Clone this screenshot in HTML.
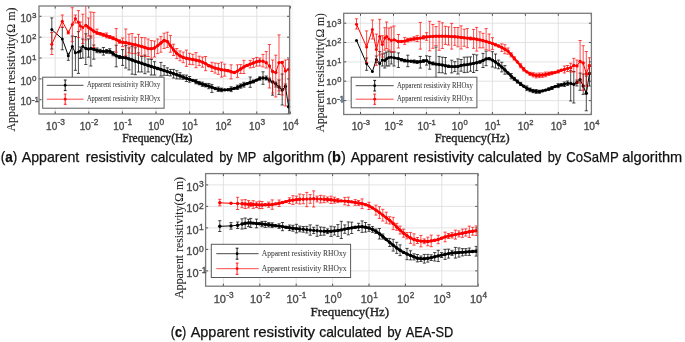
<!DOCTYPE html>
<html><head><meta charset="utf-8"><style>html,body{margin:0;padding:0;background:#fff;width:685px;height:342px;overflow:hidden}svg{display:block;will-change:transform;filter:blur(0.35px)}</style></head><body>
<svg width="685" height="342" viewBox="0 0 685 342" font-family="Liberation Sans, sans-serif">
<defs><clipPath id="ca"><rect x="39" y="6" width="251.8" height="108"/></clipPath><clipPath id="cb"><rect x="343.7" y="13.3" width="248.9" height="101.2"/></clipPath><clipPath id="cc"><rect x="205.6" y="173.6" width="273.4" height="112.6"/></clipPath></defs>
<rect width="685" height="342" fill="#fff"/>
<path d="M292 0V136" stroke="#f2f2f2" stroke-width="1"/>
<path d="M55.2 6V114M88.8 6V114M122.4 6V114M156 6V114M189.6 6V114M223.2 6V114M256.8 6V114M39 16.3H289.6M39 37.2H289.6M39 58H289.6M39 78.9H289.6M39 99.7H289.6" stroke="#e0e0e0" stroke-width="0.9" fill="none"/>
<g clip-path="url(#ca)">
<path d="M51.8 29.6 L62.3 39 L68.3 55.7 L72.3 46.6 L75.4 52.8 L78.4 52.1 L80.4 51 L82.8 46.5 L85.8 48.4 L88.5 49.1 L90.8 48.6 L93.8 49.3 L97 50.4 L100.2 51.1 L103.4 51.4 L106.6 51.4 L109.8 51.2 L113 53.6 L116.2 55.8 L119.4 57 L122.6 57.5 L125.8 57.8 L129 58.9 L132.1 60 L135.3 61.2 L138.5 62.2 L141.7 63.3 L144.9 64.4 L148.1 65.5 L151.3 66.5 L154.5 67.5 L157.7 68.5 L160.9 69.5 L164.1 70.5 L167.3 71.6 L170.4 72.6 L173.6 73.7 L176.8 74.8 L180 75.9 L183.2 77.1 L186.4 78.3 L189.6 79.4 L192.8 80.4 L196 81.7 L199.2 83.1 L202.4 84.2 L205.6 85.2 L208.8 86.1 L211.9 87.2 L215.1 88.5 L218.3 89.3 L221.5 89.9 L224.7 89.9 L227.9 89.7 L231.1 89.2 L234.3 88.4 L237.5 87.4 L240.7 86 L243.9 84.7 L247.1 83.6 L250.2 82.5 L253.4 81.5 L256.6 80.1 L259.8 78.5 L263 78 L266.2 78.2 L269.4 80 L272.6 82 L275.8 84 L279 87 L282.2 90 L285.4 86.5 L288.6 106.7" fill="none" stroke="#000" stroke-width="1.0" stroke-linejoin="round"/>
<path d="M85.8 48.4 L88.5 49.1 L90.8 48.6 L93.8 49.3 L97 50.4 L100.2 51.1 L103.4 51.4 L106.6 51.4 L109.8 51.2 L113 53.6 L116.2 55.8 L119.4 57 L122.6 57.5 L125.8 57.8 L129 58.9 L132.1 60 L135.3 61.2 L138.5 62.2 L141.7 63.3 L144.9 64.4 L148.1 65.5 L151.3 66.5 L154.5 67.5 L157.7 68.5 L160.9 69.5 L164.1 70.5 L167.3 71.6 L170.4 72.6 L173.6 73.7 L176.8 74.8 L180 75.9 L183.2 77.1 L186.4 78.3 L189.6 79.4 L192.8 80.4 L196 81.7 L199.2 83.1 L202.4 84.2 L205.6 85.2 L208.8 86.1 L211.9 87.2 L215.1 88.5 L218.3 89.3 L221.5 89.9 L224.7 89.9 L227.9 89.7 L231.1 89.2 L234.3 88.4 L237.5 87.4 L240.7 86 L243.9 84.7 L247.1 83.6 L250.2 82.5 L253.4 81.5 L256.6 80.1 L259.8 78.5" fill="none" stroke="#000" stroke-width="2.4" stroke-linejoin="round" stroke-linecap="round"/>
<path d="M51.8 17.9V49M50.2 17.9h3.2M50.2 49h3.2M62.3 27.2V49.8M60.7 27.2h3.2M60.7 49.8h3.2M68.3 53.4V60.3M66.7 53.4h3.2M66.7 60.3h3.2M72.3 36V80M70.7 36h3.2M70.7 80h3.2M75.4 36.5V70.3M73.8 36.5h3.2M73.8 70.3h3.2M78.4 31.6V73.4M76.8 31.6h3.2M76.8 73.4h3.2M80.4 47V58.4M78.8 47h3.2M78.8 58.4h3.2M82.8 39V58M81.2 39h3.2M81.2 58h3.2M85.8 33.8V64.5M84.2 33.8h3.2M84.2 64.5h3.2M88.5 38.9V57.2M86.9 38.9h3.2M86.9 57.2h3.2M90.8 36V66M89.2 36h3.2M89.2 66h3.2M93.8 45V59.2M92.2 45h3.2M92.2 59.2h3.2M97 48V52.7M95.4 48h3.2M95.4 52.7h3.2M100.2 49.3V52.9M98.6 49.3h3.2M98.6 52.9h3.2M103.4 47.5V55.1M101.8 47.5h3.2M101.8 55.1h3.2M106.6 49.5V53.3M105 49.5h3.2M105 53.3h3.2M109.8 48.7V53.6M108.2 48.7h3.2M108.2 53.6h3.2M113 51.5V55.8M111.4 51.5h3.2M111.4 55.8h3.2M116.2 45.2V66.8M114.6 45.2h3.2M114.6 66.8h3.2M119.4 55.5V58.5M117.8 55.5h3.2M117.8 58.5h3.2M122.6 49.6V65.4M121 49.6h3.2M121 65.4h3.2M125.8 45.6V68M124.2 45.6h3.2M124.2 68h3.2M129 47.9V69.9M127.4 47.9h3.2M127.4 69.9h3.2M132.1 46.3V74.2M130.5 46.3h3.2M130.5 74.2h3.2M135.3 47.8V74.7M133.7 47.8h3.2M133.7 74.7h3.2M138.5 52.9V72M136.9 52.9h3.2M136.9 72h3.2M141.7 56.5V72M140.1 56.5h3.2M140.1 72h3.2M144.9 55.1V73.7M143.3 55.1h3.2M143.3 73.7h3.2M148.1 59V72M146.5 59h3.2M146.5 72h3.2M151.3 59.5V75M149.7 59.5h3.2M149.7 75h3.2M154.5 61.7V75M152.9 61.7h3.2M152.9 75h3.2M157.7 67.4V69.6M156.1 67.4h3.2M156.1 69.6h3.2M160.9 62.4V76M159.3 62.4h3.2M159.3 76h3.2M164.1 65.7V75.3M162.5 65.7h3.2M162.5 75.3h3.2M167.3 67.8V75.4M165.7 67.8h3.2M165.7 75.4h3.2M170.4 69.4V75.9M168.8 69.4h3.2M168.8 75.9h3.2M173.6 69.4V78M172 69.4h3.2M172 78h3.2M176.8 70.7V78.9M175.2 70.7h3.2M175.2 78.9h3.2M180 72.7V79M178.4 72.7h3.2M178.4 79h3.2M183.2 74.9V79.3M181.6 74.9h3.2M181.6 79.3h3.2M186.4 75.1V81.5M184.8 75.1h3.2M184.8 81.5h3.2M189.6 76.5V82.2M188 76.5h3.2M188 82.2h3.2M196 79.5V83.8M194.4 79.5h3.2M194.4 83.8h3.2M199.2 81.4V84.8M197.6 81.4h3.2M197.6 84.8h3.2M202.4 82.1V86.4M200.8 82.1h3.2M200.8 86.4h3.2M205.6 83.4V86.9M204 83.4h3.2M204 86.9h3.2M208.8 83.5V88.7M207.2 83.5h3.2M207.2 88.7h3.2M211.9 84.4V92.4M210.3 84.4h3.2M210.3 92.4h3.2M218.3 87V91.5M216.7 87h3.2M216.7 91.5h3.2M221.5 88.1V91.7M219.9 88.1h3.2M219.9 91.7h3.2M231.1 86.8V91.6M229.5 86.8h3.2M229.5 91.6h3.2M237.5 85.2V89.5M235.9 85.2h3.2M235.9 89.5h3.2M240.7 83.9V88.2M239.1 83.9h3.2M239.1 88.2h3.2M243.9 82.3V87.1M242.3 82.3h3.2M242.3 87.1h3.2M250.2 77V87.3M248.6 77h3.2M248.6 87.3h3.2M253.4 80.1V82.9M251.8 80.1h3.2M251.8 82.9h3.2M259.8 76.8V80.2M258.2 76.8h3.2M258.2 80.2h3.2M263 71.8V84.3M261.4 71.8h3.2M261.4 84.3h3.2M266.2 76V80M264.6 76h3.2M264.6 80h3.2M269.4 78V82M267.8 78h3.2M267.8 82h3.2M272.6 81.3V95.2M271 81.3h3.2M271 95.2h3.2M275.8 82V87M274.2 82h3.2M274.2 87h3.2M279 80V94.4M277.4 80h3.2M277.4 94.4h3.2M282.2 74V105M280.6 74h3.2M280.6 105h3.2M285.4 84V89M283.8 84h3.2M283.8 89h3.2M288.6 100V114M287 100h3.2M287 114h3.2" fill="none" stroke="#000" stroke-width="0.7"/>
<g fill="#000"><circle cx="51.8" cy="29.6" r="1.5"/><circle cx="62.3" cy="39" r="1.5"/><circle cx="68.3" cy="55.7" r="1.5"/><circle cx="72.3" cy="46.6" r="1.5"/><circle cx="75.4" cy="52.8" r="1.5"/><circle cx="78.4" cy="52.1" r="1.5"/><circle cx="80.4" cy="51" r="1.5"/><circle cx="82.8" cy="46.5" r="1.5"/><circle cx="85.8" cy="48.4" r="1.5"/><circle cx="88.5" cy="49.1" r="1.5"/><circle cx="90.8" cy="48.6" r="1.5"/><circle cx="93.8" cy="49.3" r="1.7"/><circle cx="97" cy="50.4" r="1.7"/><circle cx="100.2" cy="51.1" r="1.7"/><circle cx="103.4" cy="51.4" r="1.7"/><circle cx="106.6" cy="51.4" r="1.7"/><circle cx="109.8" cy="51.2" r="1.7"/><circle cx="113" cy="53.6" r="1.7"/><circle cx="116.2" cy="55.8" r="1.7"/><circle cx="119.4" cy="57" r="1.7"/><circle cx="122.6" cy="57.5" r="1.7"/><circle cx="125.8" cy="57.8" r="1.7"/><circle cx="129" cy="58.9" r="1.7"/><circle cx="132.1" cy="60" r="1.7"/><circle cx="135.3" cy="61.2" r="1.7"/><circle cx="138.5" cy="62.2" r="1.7"/><circle cx="141.7" cy="63.3" r="1.7"/><circle cx="144.9" cy="64.4" r="1.7"/><circle cx="148.1" cy="65.5" r="1.7"/><circle cx="151.3" cy="66.5" r="1.7"/><circle cx="154.5" cy="67.5" r="1.7"/><circle cx="157.7" cy="68.5" r="1.7"/><circle cx="160.9" cy="69.5" r="1.7"/><circle cx="164.1" cy="70.5" r="1.7"/><circle cx="167.3" cy="71.6" r="1.7"/><circle cx="170.4" cy="72.6" r="1.7"/><circle cx="173.6" cy="73.7" r="1.7"/><circle cx="176.8" cy="74.8" r="1.7"/><circle cx="180" cy="75.9" r="1.7"/><circle cx="183.2" cy="77.1" r="1.7"/><circle cx="186.4" cy="78.3" r="1.7"/><circle cx="189.6" cy="79.4" r="1.7"/><circle cx="192.8" cy="80.4" r="1.7"/><circle cx="196" cy="81.7" r="1.7"/><circle cx="199.2" cy="83.1" r="1.7"/><circle cx="202.4" cy="84.2" r="1.7"/><circle cx="205.6" cy="85.2" r="1.7"/><circle cx="208.8" cy="86.1" r="1.7"/><circle cx="211.9" cy="87.2" r="1.7"/><circle cx="215.1" cy="88.5" r="1.7"/><circle cx="218.3" cy="89.3" r="1.7"/><circle cx="221.5" cy="89.9" r="1.7"/><circle cx="224.7" cy="89.9" r="1.7"/><circle cx="227.9" cy="89.7" r="1.7"/><circle cx="231.1" cy="89.2" r="1.7"/><circle cx="234.3" cy="88.4" r="1.7"/><circle cx="237.5" cy="87.4" r="1.7"/><circle cx="240.7" cy="86" r="1.7"/><circle cx="243.9" cy="84.7" r="1.7"/><circle cx="247.1" cy="83.6" r="1.7"/><circle cx="250.2" cy="82.5" r="1.7"/><circle cx="253.4" cy="81.5" r="1.7"/><circle cx="256.6" cy="80.1" r="1.7"/><circle cx="259.8" cy="78.5" r="1.7"/><circle cx="263" cy="78" r="1.7"/><circle cx="266.2" cy="78.2" r="1.7"/><circle cx="269.4" cy="80" r="1.7"/><circle cx="272.6" cy="82" r="1.7"/><circle cx="275.8" cy="84" r="1.7"/><circle cx="279" cy="87" r="1.7"/><circle cx="282.2" cy="90" r="1.7"/><circle cx="285.4" cy="86.5" r="1.7"/><circle cx="288.6" cy="106.7" r="1.7"/></g>
<path d="M51.8 44.2 L62.3 21.3 L68.3 32.5 L72.3 24.5 L75.4 18.6 L78.4 22.3 L80.4 25.9 L82.8 27.4 L85.8 25.2 L88.5 27.4 L90.8 29 L93.8 31.2 L97 32.8 L100.2 33.8 L103.4 34.8 L106.6 35.8 L109.8 37 L113 38.2 L116.2 39.6 L119.4 41.5 L122.6 42.3 L125.8 42.7 L129 43.4 L132.1 44.1 L135.3 44.8 L138.5 45.7 L141.7 46.5 L144.9 47.5 L148.1 48.6 L151.3 48.8 L154.5 48 L157.7 45.6 L160.9 43 L164.1 40.5 L167.3 41.4 L170.4 45.6 L173.6 49.9 L176.8 53.5 L180 55.9 L183.2 57.4 L186.4 58.3 L189.6 58.9 L192.8 59.5 L196 60.2 L199.2 60.9 L202.4 62.1 L205.6 63.6 L208.8 65.7 L211.9 66.9 L215.1 68.1 L218.3 68.9 L221.5 69.7 L224.7 70.1 L227.9 70.7 L231.1 71.8 L234.3 72.5 L237.5 71.1 L240.7 69 L243.9 66.9 L247.1 65.4 L250.2 64.1 L253.4 63 L256.6 61.8 L259.8 61 L263 61.3 L266.2 62.8 L269.4 66 L272.6 71.5 L275.8 72.5 L279 62.6 L282.2 62.5 L285.4 70.9 L288.6 69.5" fill="none" stroke="#f00" stroke-width="1.0" stroke-linejoin="round"/>
<path d="M85.8 25.2 L88.5 27.4 L90.8 29 L93.8 31.2 L97 32.8 L100.2 33.8 L103.4 34.8 L106.6 35.8 L109.8 37 L113 38.2 L116.2 39.6 L119.4 41.5 L122.6 42.3 L125.8 42.7 L129 43.4 L132.1 44.1 L135.3 44.8 L138.5 45.7 L141.7 46.5 L144.9 47.5 L148.1 48.6 L151.3 48.8 L154.5 48 L157.7 45.6 L160.9 43 L164.1 40.5 L167.3 41.4 L170.4 45.6 L173.6 49.9 L176.8 53.5 L180 55.9 L183.2 57.4 L186.4 58.3 L189.6 58.9 L192.8 59.5 L196 60.2 L199.2 60.9 L202.4 62.1 L205.6 63.6 L208.8 65.7 L211.9 66.9 L215.1 68.1 L218.3 68.9 L221.5 69.7 L224.7 70.1 L227.9 70.7 L231.1 71.8 L234.3 72.5 L237.5 71.1 L240.7 69 L243.9 66.9 L247.1 65.4 L250.2 64.1 L253.4 63 L256.6 61.8 L259.8 61" fill="none" stroke="#f00" stroke-width="2.4" stroke-linejoin="round" stroke-linecap="round"/>
<path d="M51.8 32.5V54.5M50.2 32.5h3.2M50.2 54.5h3.2M62.3 15V27.4M60.7 15h3.2M60.7 27.4h3.2M68.3 31V34M66.7 31h3.2M66.7 34h3.2M72.3 7.7V41.7M70.7 7.7h3.2M70.7 41.7h3.2M75.4 15V23M73.8 15h3.2M73.8 23h3.2M78.4 10.6V37.6M76.8 10.6h3.2M76.8 37.6h3.2M80.4 22V30M78.8 22h3.2M78.8 30h3.2M82.8 14.2V43.5M81.2 14.2h3.2M81.2 43.5h3.2M85.8 4V40M84.2 4h3.2M84.2 40h3.2M88.5 18V36M86.9 18h3.2M86.9 36h3.2M90.8 12V38M89.2 12h3.2M89.2 38h3.2M93.8 12.4V47.5M92.2 12.4h3.2M92.2 47.5h3.2M97 29.1V34.4M95.4 29.1h3.2M95.4 34.4h3.2M100.2 32.7V34.9M98.6 32.7h3.2M98.6 34.9h3.2M103.4 33.3V36.2M101.8 33.3h3.2M101.8 36.2h3.2M106.6 33V37.9M105 33h3.2M105 37.9h3.2M109.8 35.5V38.5M108.2 35.5h3.2M108.2 38.5h3.2M113 36.7V39.7M111.4 36.7h3.2M111.4 39.7h3.2M116.2 28.6V52.2M114.6 28.6h3.2M114.6 52.2h3.2M119.4 39.7V43.3M117.8 39.7h3.2M117.8 43.3h3.2M122.6 38V46.6M121 38h3.2M121 46.6h3.2M125.8 29V55.8M124.2 29h3.2M124.2 55.8h3.2M129 34.1V52.7M127.4 34.1h3.2M127.4 52.7h3.2M132.1 33.5V53.6M130.5 33.5h3.2M130.5 53.6h3.2M135.3 37.3V53.6M133.7 37.3h3.2M133.7 53.6h3.2M138.5 34.3V55.1M136.9 34.3h3.2M136.9 55.1h3.2M141.7 37.5V55.8M140.1 37.5h3.2M140.1 55.8h3.2M144.9 37.8V56.5M143.3 37.8h3.2M143.3 56.5h3.2M148.1 39V56.5M146.5 39h3.2M146.5 56.5h3.2M151.3 40.5V58.3M149.7 40.5h3.2M149.7 58.3h3.2M154.5 41V57M152.9 41h3.2M152.9 57h3.2M157.7 39V53.6M156.1 39h3.2M156.1 53.6h3.2M160.9 36.4V52.2M159.3 36.4h3.2M159.3 52.2h3.2M164.1 33.2V48.5M162.5 33.2h3.2M162.5 48.5h3.2M167.3 32.2V47.5M165.7 32.2h3.2M165.7 47.5h3.2M170.4 35.4V52.2M168.8 35.4h3.2M168.8 52.2h3.2M173.6 44.2V55.5M172 44.2h3.2M172 55.5h3.2M176.8 48.5V58.6M175.2 48.5h3.2M175.2 58.6h3.2M180 50.9V60.8M178.4 50.9h3.2M178.4 60.8h3.2M183.2 52.1V62.7M181.6 52.1h3.2M181.6 62.7h3.2M186.4 50.1V66.4M184.8 50.1h3.2M184.8 66.4h3.2M189.6 53.3V64.4M188 53.3h3.2M188 64.4h3.2M192.8 54.3V64.7M191.2 54.3h3.2M191.2 64.7h3.2M196 52.6V67.7M194.4 52.6h3.2M194.4 67.7h3.2M199.2 56.2V65.6M197.6 56.2h3.2M197.6 65.6h3.2M202.4 57V67.2M200.8 57h3.2M200.8 67.2h3.2M205.6 56.5V70.7M204 56.5h3.2M204 70.7h3.2M208.8 64.8V66.6M207.2 64.8h3.2M207.2 66.6h3.2M211.9 62.3V71.5M210.3 62.3h3.2M210.3 71.5h3.2M215.1 63V73.1M213.5 63h3.2M213.5 73.1h3.2M218.3 63.4V74.4M216.7 63.4h3.2M216.7 74.4h3.2M221.5 62.2V77.1M219.9 62.2h3.2M219.9 77.1h3.2M224.7 64.1V76.2M223.1 64.1h3.2M223.1 76.2h3.2M227.9 69.8V71.5M226.3 69.8h3.2M226.3 71.5h3.2M231.1 64.8V78.9M229.5 64.8h3.2M229.5 78.9h3.2M234.3 71.6V73.3M232.7 71.6h3.2M232.7 73.3h3.2M237.5 64.8V77.4M235.9 64.8h3.2M235.9 77.4h3.2M240.7 64.6V73.5M239.1 64.6h3.2M239.1 73.5h3.2M243.9 60.3V73.5M242.3 60.3h3.2M242.3 73.5h3.2M247.1 64.6V66.2M245.5 64.6h3.2M245.5 66.2h3.2M250.2 60.4V67.9M248.6 60.4h3.2M248.6 67.9h3.2M253.4 58.6V67.3M251.8 58.6h3.2M251.8 67.3h3.2M256.6 57.4V66.1M255 57.4h3.2M255 66.1h3.2M259.8 58V66M258.2 58h3.2M258.2 66h3.2M263 54.4V66.9M261.4 54.4h3.2M261.4 66.9h3.2M266.2 51.5V68M264.6 51.5h3.2M264.6 68h3.2M269.4 44.5V88M267.8 44.5h3.2M267.8 88h3.2M272.6 60V93M271 60h3.2M271 93h3.2M275.8 55.2V97M274.2 55.2h3.2M274.2 97h3.2M279 34.9V91M277.4 34.9h3.2M277.4 91h3.2M282.2 61.4V95M280.6 61.4h3.2M280.6 95h3.2M285.4 60V106M283.8 60h3.2M283.8 106h3.2M288.6 59.5V100M287 59.5h3.2M287 100h3.2" fill="none" stroke="#f00" stroke-width="0.7"/>
<g fill="#f00"><circle cx="51.8" cy="44.2" r="1.5"/><circle cx="62.3" cy="21.3" r="1.5"/><circle cx="68.3" cy="32.5" r="1.5"/><circle cx="72.3" cy="24.5" r="1.5"/><circle cx="75.4" cy="18.6" r="1.5"/><circle cx="78.4" cy="22.3" r="1.5"/><circle cx="80.4" cy="25.9" r="1.5"/><circle cx="82.8" cy="27.4" r="1.5"/><circle cx="85.8" cy="25.2" r="1.5"/><circle cx="88.5" cy="27.4" r="1.5"/><circle cx="90.8" cy="29" r="1.5"/><circle cx="93.8" cy="31.2" r="1.7"/><circle cx="97" cy="32.8" r="1.7"/><circle cx="100.2" cy="33.8" r="1.7"/><circle cx="103.4" cy="34.8" r="1.7"/><circle cx="106.6" cy="35.8" r="1.7"/><circle cx="109.8" cy="37" r="1.7"/><circle cx="113" cy="38.2" r="1.7"/><circle cx="116.2" cy="39.6" r="1.7"/><circle cx="119.4" cy="41.5" r="1.7"/><circle cx="122.6" cy="42.3" r="1.7"/><circle cx="125.8" cy="42.7" r="1.7"/><circle cx="129" cy="43.4" r="1.7"/><circle cx="132.1" cy="44.1" r="1.7"/><circle cx="135.3" cy="44.8" r="1.7"/><circle cx="138.5" cy="45.7" r="1.7"/><circle cx="141.7" cy="46.5" r="1.7"/><circle cx="144.9" cy="47.5" r="1.7"/><circle cx="148.1" cy="48.6" r="1.7"/><circle cx="151.3" cy="48.8" r="1.7"/><circle cx="154.5" cy="48" r="1.7"/><circle cx="157.7" cy="45.6" r="1.7"/><circle cx="160.9" cy="43" r="1.7"/><circle cx="164.1" cy="40.5" r="1.7"/><circle cx="167.3" cy="41.4" r="1.7"/><circle cx="170.4" cy="45.6" r="1.7"/><circle cx="173.6" cy="49.9" r="1.7"/><circle cx="176.8" cy="53.5" r="1.7"/><circle cx="180" cy="55.9" r="1.7"/><circle cx="183.2" cy="57.4" r="1.7"/><circle cx="186.4" cy="58.3" r="1.7"/><circle cx="189.6" cy="58.9" r="1.7"/><circle cx="192.8" cy="59.5" r="1.7"/><circle cx="196" cy="60.2" r="1.7"/><circle cx="199.2" cy="60.9" r="1.7"/><circle cx="202.4" cy="62.1" r="1.7"/><circle cx="205.6" cy="63.6" r="1.7"/><circle cx="208.8" cy="65.7" r="1.7"/><circle cx="211.9" cy="66.9" r="1.7"/><circle cx="215.1" cy="68.1" r="1.7"/><circle cx="218.3" cy="68.9" r="1.7"/><circle cx="221.5" cy="69.7" r="1.7"/><circle cx="224.7" cy="70.1" r="1.7"/><circle cx="227.9" cy="70.7" r="1.7"/><circle cx="231.1" cy="71.8" r="1.7"/><circle cx="234.3" cy="72.5" r="1.7"/><circle cx="237.5" cy="71.1" r="1.7"/><circle cx="240.7" cy="69" r="1.7"/><circle cx="243.9" cy="66.9" r="1.7"/><circle cx="247.1" cy="65.4" r="1.7"/><circle cx="250.2" cy="64.1" r="1.7"/><circle cx="253.4" cy="63" r="1.7"/><circle cx="256.6" cy="61.8" r="1.7"/><circle cx="259.8" cy="61" r="1.7"/><circle cx="263" cy="61.3" r="1.7"/><circle cx="266.2" cy="62.8" r="1.7"/><circle cx="269.4" cy="66" r="1.7"/><circle cx="272.6" cy="71.5" r="1.7"/><circle cx="275.8" cy="72.5" r="1.7"/><circle cx="279" cy="62.6" r="1.7"/><circle cx="282.2" cy="62.5" r="1.7"/><circle cx="285.4" cy="70.9" r="1.7"/><circle cx="288.6" cy="69.5" r="1.7"/></g>
</g>
<rect x="42.7" y="77.2" width="121.4" height="31" fill="#fff" stroke="#5a5a5a" stroke-width="1"/>
<path d="M46.8 85.3H83.6" stroke="#000" stroke-width="0.9" opacity="0.8"/>
<path d="M65.2 80V90.6M63.8 80h2.8M63.8 90.6h2.8" stroke="#000" stroke-width="0.9" fill="none"/>
<circle cx="65.2" cy="85.3" r="1.4" fill="#000"/>
<text x="86.9" y="87.1" font-family="Liberation Serif" font-size="7.4" textLength="73.4" lengthAdjust="spacingAndGlyphs" fill="#3a3a3a" stroke="#3a3a3a" stroke-width="0.05">Apparent resistivity RHOxy</text>
<path d="M46.8 99.2H83.6" stroke="#f00" stroke-width="0.9" opacity="0.8"/>
<path d="M65.2 94.1V104.3M63.8 94.1h2.8M63.8 104.3h2.8" stroke="#f00" stroke-width="0.9" fill="none"/>
<circle cx="65.2" cy="99.2" r="1.4" fill="#f00"/>
<text x="86.9" y="101" font-family="Liberation Serif" font-size="7.4" textLength="73.4" lengthAdjust="spacingAndGlyphs" fill="#3a3a3a" stroke="#3a3a3a" stroke-width="0.05">Apparent resistivity RHOyx</text>
<path d="M55.2 114v-2.5M55.2 6v2.5M88.8 114v-2.5M88.8 6v2.5M122.4 114v-2.5M122.4 6v2.5M156 114v-2.5M156 6v2.5M189.6 114v-2.5M189.6 6v2.5M223.2 114v-2.5M223.2 6v2.5M256.8 114v-2.5M256.8 6v2.5M290.4 114v-2.5M290.4 6v2.5M39 16.3h2.5M289.6 16.3h-2.5M39 37.2h2.5M289.6 37.2h-2.5M39 58h2.5M289.6 58h-2.5M39 78.9h2.5M289.6 78.9h-2.5M39 99.7h2.5M289.6 99.7h-2.5" stroke="#404040" stroke-width="0.9" fill="none"/>
<rect x="39" y="6" width="250.6" height="108" fill="none" stroke="#7a7a7a" stroke-width="1.3"/>
<path d="M360.5 13.3V114.5M393.5 13.3V114.5M426.4 13.3V114.5M459.4 13.3V114.5M492.4 13.3V114.5M525.4 13.3V114.5M558.3 13.3V114.5M343.7 23.2H591.4M343.7 42.5H591.4M343.7 61.9H591.4M343.7 81.2H591.4M343.7 100.6H591.4" stroke="#e0e0e0" stroke-width="0.9" fill="none"/>
<g clip-path="url(#cb)">
<path d="M356.5 40.4 L366.6 63.6 L372.4 71.6 L376.4 59.4 L379.7 63.4 L382.4 60 L384.8 60.5 L386.6 58.7 L388.9 57.5 L391.3 57.3 L394 57.8 L398.4 58.6 L401.5 59.8 L404.7 60.6 L407.8 61 L410.9 61.2 L414.1 61.5 L417.2 62 L420.3 61.7 L423.5 61 L426.6 60.6 L429.7 62.8 L432.9 63.5 L436 64.1 L439.1 64.5 L442.3 65 L445.4 65.7 L448.5 66.3 L451.7 66.6 L454.8 66.6 L457.9 66.5 L461.1 65.4 L464.2 64.9 L467.3 64.6 L470.5 64 L473.6 63.4 L476.7 62.7 L479.9 62 L483 60.4 L486.1 58.9 L489.2 58.7 L492.4 60.1 L495.5 62 L498.6 64.4 L501.8 67.1 L504.9 69.9 L508 73 L511.2 76.1 L514.3 78.8 L517.4 81.5 L520.6 84 L523.7 86.3 L526.8 88.3 L530 89.8 L533.1 91 L536.2 91.4 L539.4 91.7 L542.5 90.9 L545.6 90.1 L548.8 89.1 L551.9 88 L555 86.6 L558.2 85.7 L561.3 84.9 L564.4 84.2 L567.6 83.4 L570.7 83.5 L573.8 84.3 L576.9 82.5 L580.1 79.7 L583.2 86 L586.3 93.3 L589.5 73.5" fill="none" stroke="#000" stroke-width="1.0" stroke-linejoin="round"/>
<path d="M394 57.8 L398.4 58.6 L401.5 59.8 L404.7 60.6 L407.8 61 L410.9 61.2 L414.1 61.5 L417.2 62 L420.3 61.7 L423.5 61 L426.6 60.6 L429.7 62.8 L432.9 63.5 L436 64.1 L439.1 64.5 L442.3 65 L445.4 65.7 L448.5 66.3 L451.7 66.6 L454.8 66.6 L457.9 66.5 L461.1 65.4 L464.2 64.9 L467.3 64.6 L470.5 64 L473.6 63.4 L476.7 62.7 L479.9 62 L483 60.4 L486.1 58.9 L489.2 58.7 L492.4 60.1 L495.5 62 L498.6 64.4 L501.8 67.1 L504.9 69.9 L508 73 L511.2 76.1 L514.3 78.8 L517.4 81.5 L520.6 84 L523.7 86.3 L526.8 88.3 L530 89.8 L533.1 91 L536.2 91.4 L539.4 91.7 L542.5 90.9 L545.6 90.1 L548.8 89.1 L551.9 88 L555 86.6 L558.2 85.7 L561.3 84.9 L564.4 84.2" fill="none" stroke="#000" stroke-width="2.2" stroke-linejoin="round" stroke-linecap="round"/>
<path d="M366.6 58V70.3M365 58h3.2M365 70.3h3.2M376.4 56V62.5M374.8 56h3.2M374.8 62.5h3.2M379.7 51.6V78.4M378.1 51.6h3.2M378.1 78.4h3.2M382.4 54V66M380.8 54h3.2M380.8 66h3.2M384.8 53V68M383.2 53h3.2M383.2 68h3.2M386.6 52V66M385 52h3.2M385 66h3.2M388.9 51V66M387.3 51h3.2M387.3 66h3.2M391.3 52V64M389.7 52h3.2M389.7 64h3.2M394 52V66M392.4 52h3.2M392.4 66h3.2M398.4 52.9V67.5M396.8 52.9h3.2M396.8 67.5h3.2M401.5 58.8V60.8M399.9 58.8h3.2M399.9 60.8h3.2M404.7 59.3V62M403.1 59.3h3.2M403.1 62h3.2M407.8 55.2V66.7M406.2 55.2h3.2M406.2 66.7h3.2M414.1 60V63M412.5 60h3.2M412.5 63h3.2M417.2 60.7V63.4M415.6 60.7h3.2M415.6 63.4h3.2M420.3 56.4V68.1M418.7 56.4h3.2M418.7 68.1h3.2M423.5 59.7V62.3M421.9 59.7h3.2M421.9 62.3h3.2M426.6 55.8V65.1M425 55.8h3.2M425 65.1h3.2M429.7 56.4V69.2M428.1 56.4h3.2M428.1 69.2h3.2M432.9 62.1V64.9M431.3 62.1h3.2M431.3 64.9h3.2M436 47V77.4M434.4 47h3.2M434.4 77.4h3.2M439.1 56.4V72.7M437.5 56.4h3.2M437.5 72.7h3.2M442.3 57.2V72.8M440.7 57.2h3.2M440.7 72.8h3.2M445.4 57.5V73.8M443.8 57.5h3.2M443.8 73.8h3.2M448.5 65.3V67.4M446.9 65.3h3.2M446.9 67.4h3.2M451.7 60.2V72.9M450.1 60.2h3.2M450.1 72.9h3.2M454.8 61.7V71.6M453.2 61.7h3.2M453.2 71.6h3.2M457.9 58.9V74M456.3 58.9h3.2M456.3 74h3.2M461.1 59.5V71.2M459.5 59.5h3.2M459.5 71.2h3.2M464.2 57.2V72.6M462.6 57.2h3.2M462.6 72.6h3.2M467.3 57V72.3M465.7 57h3.2M465.7 72.3h3.2M470.5 56.9V71.2M468.9 56.9h3.2M468.9 71.2h3.2M473.6 54.3V72.5M472 54.3h3.2M472 72.5h3.2M476.7 54.9V70.6M475.1 54.9h3.2M475.1 70.6h3.2M479.9 60.9V63M478.3 60.9h3.2M478.3 63h3.2M483 53.4V67.5M481.4 53.4h3.2M481.4 67.5h3.2M486.1 51.1V65.7M484.5 51.1h3.2M484.5 65.7h3.2M489.2 57.8V59.5M487.6 57.8h3.2M487.6 59.5h3.2M492.4 51.7V67M490.8 51.7h3.2M490.8 67h3.2M495.5 54V68M493.9 54h3.2M493.9 68h3.2M498.6 60.1V68.8M497 60.1h3.2M497 68.8h3.2M501.8 62.2V71.9M500.2 62.2h3.2M500.2 71.9h3.2M504.9 65.6V74.2M503.3 65.6h3.2M503.3 74.2h3.2M511.2 73.5V78.8M509.6 73.5h3.2M509.6 78.8h3.2M514.3 77.3V80.4M512.7 77.3h3.2M512.7 80.4h3.2M517.4 80V83.1M515.8 80h3.2M515.8 83.1h3.2M520.6 82.4V85.5M519 82.4h3.2M519 85.5h3.2M526.8 85.9V90.6M525.2 85.9h3.2M525.2 90.6h3.2M530 88V91.7M528.4 88h3.2M528.4 91.7h3.2M533.1 89.4V92.7M531.5 89.4h3.2M531.5 92.7h3.2M536.2 89.5V93.4M534.6 89.5h3.2M534.6 93.4h3.2M539.4 90.2V93.2M537.8 90.2h3.2M537.8 93.2h3.2M548.8 87.8V90.4M547.2 87.8h3.2M547.2 90.4h3.2M551.9 86.5V89.5M550.3 86.5h3.2M550.3 89.5h3.2M558.2 83.7V87.6M556.6 83.7h3.2M556.6 87.6h3.2M561.3 83.8V86M559.7 83.8h3.2M559.7 86h3.2M564.4 82V86.5M562.8 82h3.2M562.8 86.5h3.2M567.6 81V85.5M566 81h3.2M566 85.5h3.2M570.7 70.7V101M569.1 70.7h3.2M569.1 101h3.2M573.8 71.5V103M572.2 71.5h3.2M572.2 103h3.2M576.9 80V86M575.3 80h3.2M575.3 86h3.2M580.1 73V90.3M578.5 73h3.2M578.5 90.3h3.2M583.2 74V94.4M581.6 74h3.2M581.6 94.4h3.2M586.3 76V110.8M584.7 76h3.2M584.7 110.8h3.2M589.5 66.5V86M587.9 66.5h3.2M587.9 86h3.2" fill="none" stroke="#000" stroke-width="0.7"/>
<g fill="#000"><circle cx="356.5" cy="40.4" r="1.5"/><circle cx="366.6" cy="63.6" r="1.5"/><circle cx="372.4" cy="71.6" r="1.5"/><circle cx="376.4" cy="59.4" r="1.5"/><circle cx="379.7" cy="63.4" r="1.5"/><circle cx="382.4" cy="60" r="1.5"/><circle cx="384.8" cy="60.5" r="1.5"/><circle cx="386.6" cy="58.7" r="1.5"/><circle cx="388.9" cy="57.5" r="1.5"/><circle cx="391.3" cy="57.3" r="1.5"/><circle cx="394" cy="57.8" r="1.5"/><circle cx="398.4" cy="58.6" r="1.7"/><circle cx="401.5" cy="59.8" r="1.7"/><circle cx="404.7" cy="60.6" r="1.7"/><circle cx="407.8" cy="61" r="1.7"/><circle cx="410.9" cy="61.2" r="1.7"/><circle cx="414.1" cy="61.5" r="1.7"/><circle cx="417.2" cy="62" r="1.7"/><circle cx="420.3" cy="61.7" r="1.7"/><circle cx="423.5" cy="61" r="1.7"/><circle cx="426.6" cy="60.6" r="1.7"/><circle cx="429.7" cy="62.8" r="1.7"/><circle cx="432.9" cy="63.5" r="1.7"/><circle cx="436" cy="64.1" r="1.7"/><circle cx="439.1" cy="64.5" r="1.7"/><circle cx="442.3" cy="65" r="1.7"/><circle cx="445.4" cy="65.7" r="1.7"/><circle cx="448.5" cy="66.3" r="1.7"/><circle cx="451.7" cy="66.6" r="1.7"/><circle cx="454.8" cy="66.6" r="1.7"/><circle cx="457.9" cy="66.5" r="1.7"/><circle cx="461.1" cy="65.4" r="1.7"/><circle cx="464.2" cy="64.9" r="1.7"/><circle cx="467.3" cy="64.6" r="1.7"/><circle cx="470.5" cy="64" r="1.7"/><circle cx="473.6" cy="63.4" r="1.7"/><circle cx="476.7" cy="62.7" r="1.7"/><circle cx="479.9" cy="62" r="1.7"/><circle cx="483" cy="60.4" r="1.7"/><circle cx="486.1" cy="58.9" r="1.7"/><circle cx="489.2" cy="58.7" r="1.7"/><circle cx="492.4" cy="60.1" r="1.7"/><circle cx="495.5" cy="62" r="1.7"/><circle cx="498.6" cy="64.4" r="1.7"/><circle cx="501.8" cy="67.1" r="1.7"/><circle cx="504.9" cy="69.9" r="1.7"/><circle cx="508" cy="73" r="1.7"/><circle cx="511.2" cy="76.1" r="1.7"/><circle cx="514.3" cy="78.8" r="1.7"/><circle cx="517.4" cy="81.5" r="1.7"/><circle cx="520.6" cy="84" r="1.7"/><circle cx="523.7" cy="86.3" r="1.7"/><circle cx="526.8" cy="88.3" r="1.7"/><circle cx="530" cy="89.8" r="1.7"/><circle cx="533.1" cy="91" r="1.7"/><circle cx="536.2" cy="91.4" r="1.7"/><circle cx="539.4" cy="91.7" r="1.7"/><circle cx="542.5" cy="90.9" r="1.7"/><circle cx="545.6" cy="90.1" r="1.7"/><circle cx="548.8" cy="89.1" r="1.7"/><circle cx="551.9" cy="88" r="1.7"/><circle cx="555" cy="86.6" r="1.7"/><circle cx="558.2" cy="85.7" r="1.7"/><circle cx="561.3" cy="84.9" r="1.7"/><circle cx="564.4" cy="84.2" r="1.7"/><circle cx="567.6" cy="83.4" r="1.7"/><circle cx="570.7" cy="83.5" r="1.7"/><circle cx="573.8" cy="84.3" r="1.7"/><circle cx="576.9" cy="82.5" r="1.7"/><circle cx="580.1" cy="79.7" r="1.7"/><circle cx="583.2" cy="86" r="1.7"/><circle cx="586.3" cy="93.3" r="1.7"/><circle cx="589.5" cy="73.5" r="1.7"/></g>
<path d="M356.5 24.2 L366.6 47 L372.4 29.6 L376.4 49.6 L379.7 36.5 L382.4 44.6 L384.8 38.1 L386.6 36.5 L388.9 39 L391.3 40.4 L394 39.8 L398.4 41.5 L401.5 41.5 L404.7 41.1 L407.8 40.1 L410.9 39.4 L414.1 38.8 L417.2 38.4 L420.3 38.1 L423.5 37.4 L426.6 36.9 L429.7 36.6 L432.9 36.4 L436 36.2 L439.1 36.2 L442.3 36.2 L445.4 36.2 L448.5 36.4 L451.7 36.6 L454.8 36.7 L457.9 37 L461.1 37.4 L464.2 37.8 L467.3 38.1 L470.5 38.5 L473.6 38.8 L476.7 39.2 L479.9 39.9 L483 40.6 L486.1 41.5 L489.2 42.4 L492.4 43.5 L495.5 44.8 L498.6 46 L501.8 47.6 L504.9 49.2 L508 51.1 L511.2 54.8 L514.3 58.4 L517.4 62 L520.6 65.7 L523.7 69.3 L526.8 71.9 L530 73.7 L533.1 74.8 L536.2 75.6 L539.4 75.3 L542.5 75.1 L545.6 74.5 L548.8 73.8 L551.9 73.1 L555 72.5 L558.2 71.5 L561.3 70.3 L564.4 69.5 L567.6 68.5 L570.7 67.7 L573.8 65.5 L576.9 65.9 L580.1 61.5 L583.2 63 L586.3 73.9 L589.5 65.5" fill="none" stroke="#f00" stroke-width="1.0" stroke-linejoin="round"/>
<path d="M394 39.8 L398.4 41.5 L401.5 41.5 L404.7 41.1 L407.8 40.1 L410.9 39.4 L414.1 38.8 L417.2 38.4 L420.3 38.1 L423.5 37.4 L426.6 36.9 L429.7 36.6 L432.9 36.4 L436 36.2 L439.1 36.2 L442.3 36.2 L445.4 36.2 L448.5 36.4 L451.7 36.6 L454.8 36.7 L457.9 37 L461.1 37.4 L464.2 37.8 L467.3 38.1 L470.5 38.5 L473.6 38.8 L476.7 39.2 L479.9 39.9 L483 40.6 L486.1 41.5 L489.2 42.4 L492.4 43.5 L495.5 44.8 L498.6 46 L501.8 47.6 L504.9 49.2 L508 51.1 L511.2 54.8 L514.3 58.4 L517.4 62 L520.6 65.7 L523.7 69.3 L526.8 71.9 L530 73.7 L533.1 74.8 L536.2 75.6 L539.4 75.3 L542.5 75.1 L545.6 74.5 L548.8 73.8 L551.9 73.1 L555 72.5 L558.2 71.5 L561.3 70.3 L564.4 69.5" fill="none" stroke="#f00" stroke-width="2.2" stroke-linejoin="round" stroke-linecap="round"/>
<path d="M356.5 18.8V29M354.9 18.8h3.2M354.9 29h3.2M366.6 30.9V62.6M365 30.9h3.2M365 62.6h3.2M372.4 20V39M370.8 20h3.2M370.8 39h3.2M376.4 34.1V65.3M374.8 34.1h3.2M374.8 65.3h3.2M379.7 19.3V55M378.1 19.3h3.2M378.1 55h3.2M382.4 35.7V57M380.8 35.7h3.2M380.8 57h3.2M384.8 27.7V50.2M383.2 27.7h3.2M383.2 50.2h3.2M386.6 22V48.6M385 22h3.2M385 48.6h3.2M388.9 28V50M387.3 28h3.2M387.3 50h3.2M391.3 27V52M389.7 27h3.2M389.7 52h3.2M394 26V52M392.4 26h3.2M392.4 52h3.2M398.4 34.5V48M396.8 34.5h3.2M396.8 48h3.2M404.7 37.4V44.4M403.1 37.4h3.2M403.1 44.4h3.2M407.8 38.3V41.9M406.2 38.3h3.2M406.2 41.9h3.2M410.9 38V41M409.3 38h3.2M409.3 41h3.2M414.1 36.8V40.8M412.5 36.8h3.2M412.5 40.8h3.2M417.2 35.6V41.5M415.6 35.6h3.2M415.6 41.5h3.2M420.3 22.4V49.1M418.7 22.4h3.2M418.7 49.1h3.2M423.5 35.6V39.1M421.9 35.6h3.2M421.9 39.1h3.2M426.6 32.7V40.3M425 32.7h3.2M425 40.3h3.2M429.7 21.3V50.8M428.1 21.3h3.2M428.1 50.8h3.2M432.9 24.5V48.3M431.3 24.5h3.2M431.3 48.3h3.2M436 26.6V45.6M434.4 26.6h3.2M434.4 45.6h3.2M439.1 21.3V50.3M437.5 21.3h3.2M437.5 50.3h3.2M442.3 22.8V48.5M440.7 22.8h3.2M440.7 48.5h3.2M445.4 26.3V44.4M443.8 26.3h3.2M443.8 44.4h3.2M448.5 26.9V45M446.9 26.9h3.2M446.9 45h3.2M451.7 23.4V49.1M450.1 23.4h3.2M450.1 49.1h3.2M454.8 27.5V45.3M453.2 27.5h3.2M453.2 45.3h3.2M457.9 27.5V46.8M456.3 27.5h3.2M456.3 46.8h3.2M461.1 25.8V49M459.5 25.8h3.2M459.5 49h3.2M464.2 29.2V46.3M462.6 29.2h3.2M462.6 46.3h3.2M467.3 28.6V47.7M465.7 28.6h3.2M465.7 47.7h3.2M470.5 37.1V39.9M468.9 37.1h3.2M468.9 39.9h3.2M473.6 29.4V48.3M472 29.4h3.2M472 48.3h3.2M476.7 27.4V51.1M475.1 27.4h3.2M475.1 51.1h3.2M479.9 31.8V47.9M478.3 31.8h3.2M478.3 47.9h3.2M483 33.3V47.9M481.4 33.3h3.2M481.4 47.9h3.2M486.1 28.6V49.7M484.5 28.6h3.2M484.5 49.7h3.2M489.2 34V50.8M487.6 34h3.2M487.6 50.8h3.2M492.4 37.7V49.4M490.8 37.7h3.2M490.8 49.4h3.2M495.5 43.9V45.7M493.9 43.9h3.2M493.9 45.7h3.2M498.6 45.2V46.8M497 45.2h3.2M497 46.8h3.2M501.8 43.8V51.4M500.2 43.8h3.2M500.2 51.4h3.2M504.9 44.7V53.7M503.3 44.7h3.2M503.3 53.7h3.2M508 48V54.2M506.4 48h3.2M506.4 54.2h3.2M511.2 52.7V56.9M509.6 52.7h3.2M509.6 56.9h3.2M514.3 56.8V60.1M512.7 56.8h3.2M512.7 60.1h3.2M520.6 63.7V67.8M519 63.7h3.2M519 67.8h3.2M523.7 67.5V71.1M522.1 67.5h3.2M522.1 71.1h3.2M530 72.2V75.3M528.4 72.2h3.2M528.4 75.3h3.2M533.1 72.7V76.9M531.5 72.7h3.2M531.5 76.9h3.2M536.2 73.2V77.9M534.6 73.2h3.2M534.6 77.9h3.2M539.4 73V77.6M537.8 73h3.2M537.8 77.6h3.2M542.5 73V77.3M540.9 73h3.2M540.9 77.3h3.2M545.6 72.1V76.8M544 72.1h3.2M544 76.8h3.2M548.8 72.1V75.4M547.2 72.1h3.2M547.2 75.4h3.2M551.9 71.6V74.7M550.3 71.6h3.2M550.3 74.7h3.2M558.2 70V73M556.6 70h3.2M556.6 73h3.2M564.4 66V73M562.8 66h3.2M562.8 73h3.2M567.6 65.5V71.5M566 65.5h3.2M566 71.5h3.2M570.7 63.2V72M569.1 63.2h3.2M569.1 72h3.2M573.8 58.3V72M572.2 58.3h3.2M572.2 72h3.2M576.9 60V83M575.3 60h3.2M575.3 83h3.2M580.1 40.5V83M578.5 40.5h3.2M578.5 83h3.2M583.2 45.7V90.3M581.6 45.7h3.2M581.6 90.3h3.2M586.3 51.5V86M584.7 51.5h3.2M584.7 86h3.2M589.5 57.7V74M587.9 57.7h3.2M587.9 74h3.2" fill="none" stroke="#f00" stroke-width="0.7"/>
<g fill="#f00"><circle cx="356.5" cy="24.2" r="1.5"/><circle cx="366.6" cy="47" r="1.5"/><circle cx="372.4" cy="29.6" r="1.5"/><circle cx="376.4" cy="49.6" r="1.5"/><circle cx="379.7" cy="36.5" r="1.5"/><circle cx="382.4" cy="44.6" r="1.5"/><circle cx="384.8" cy="38.1" r="1.5"/><circle cx="386.6" cy="36.5" r="1.5"/><circle cx="388.9" cy="39" r="1.5"/><circle cx="391.3" cy="40.4" r="1.5"/><circle cx="394" cy="39.8" r="1.5"/><circle cx="398.4" cy="41.5" r="1.7"/><circle cx="401.5" cy="41.5" r="1.7"/><circle cx="404.7" cy="41.1" r="1.7"/><circle cx="407.8" cy="40.1" r="1.7"/><circle cx="410.9" cy="39.4" r="1.7"/><circle cx="414.1" cy="38.8" r="1.7"/><circle cx="417.2" cy="38.4" r="1.7"/><circle cx="420.3" cy="38.1" r="1.7"/><circle cx="423.5" cy="37.4" r="1.7"/><circle cx="426.6" cy="36.9" r="1.7"/><circle cx="429.7" cy="36.6" r="1.7"/><circle cx="432.9" cy="36.4" r="1.7"/><circle cx="436" cy="36.2" r="1.7"/><circle cx="439.1" cy="36.2" r="1.7"/><circle cx="442.3" cy="36.2" r="1.7"/><circle cx="445.4" cy="36.2" r="1.7"/><circle cx="448.5" cy="36.4" r="1.7"/><circle cx="451.7" cy="36.6" r="1.7"/><circle cx="454.8" cy="36.7" r="1.7"/><circle cx="457.9" cy="37" r="1.7"/><circle cx="461.1" cy="37.4" r="1.7"/><circle cx="464.2" cy="37.8" r="1.7"/><circle cx="467.3" cy="38.1" r="1.7"/><circle cx="470.5" cy="38.5" r="1.7"/><circle cx="473.6" cy="38.8" r="1.7"/><circle cx="476.7" cy="39.2" r="1.7"/><circle cx="479.9" cy="39.9" r="1.7"/><circle cx="483" cy="40.6" r="1.7"/><circle cx="486.1" cy="41.5" r="1.7"/><circle cx="489.2" cy="42.4" r="1.7"/><circle cx="492.4" cy="43.5" r="1.7"/><circle cx="495.5" cy="44.8" r="1.7"/><circle cx="498.6" cy="46" r="1.7"/><circle cx="501.8" cy="47.6" r="1.7"/><circle cx="504.9" cy="49.2" r="1.7"/><circle cx="508" cy="51.1" r="1.7"/><circle cx="511.2" cy="54.8" r="1.7"/><circle cx="514.3" cy="58.4" r="1.7"/><circle cx="517.4" cy="62" r="1.7"/><circle cx="520.6" cy="65.7" r="1.7"/><circle cx="523.7" cy="69.3" r="1.7"/><circle cx="526.8" cy="71.9" r="1.7"/><circle cx="530" cy="73.7" r="1.7"/><circle cx="533.1" cy="74.8" r="1.7"/><circle cx="536.2" cy="75.6" r="1.7"/><circle cx="539.4" cy="75.3" r="1.7"/><circle cx="542.5" cy="75.1" r="1.7"/><circle cx="545.6" cy="74.5" r="1.7"/><circle cx="548.8" cy="73.8" r="1.7"/><circle cx="551.9" cy="73.1" r="1.7"/><circle cx="555" cy="72.5" r="1.7"/><circle cx="558.2" cy="71.5" r="1.7"/><circle cx="561.3" cy="70.3" r="1.7"/><circle cx="564.4" cy="69.5" r="1.7"/><circle cx="567.6" cy="68.5" r="1.7"/><circle cx="570.7" cy="67.7" r="1.7"/><circle cx="573.8" cy="65.5" r="1.7"/><circle cx="576.9" cy="65.9" r="1.7"/><circle cx="580.1" cy="61.5" r="1.7"/><circle cx="583.2" cy="63" r="1.7"/><circle cx="586.3" cy="73.9" r="1.7"/><circle cx="589.5" cy="65.5" r="1.7"/></g>
</g>
<rect x="351.2" y="77.2" width="125.7" height="30.6" fill="#fff" stroke="#5a5a5a" stroke-width="1"/>
<path d="M355.7 85.7H393.7" stroke="#000" stroke-width="0.9" opacity="0.8"/>
<path d="M374.7 80.4V91M373.3 80.4h2.8M373.3 91h2.8" stroke="#000" stroke-width="0.9" fill="none"/>
<circle cx="374.7" cy="85.7" r="1.4" fill="#000"/>
<text x="397" y="87.7" font-family="Liberation Serif" font-size="7.6" textLength="76" lengthAdjust="spacingAndGlyphs" fill="#3a3a3a" stroke="#3a3a3a" stroke-width="0.05">Apparent resistivity RHOxy</text>
<path d="M355.7 99.2H393.7" stroke="#f00" stroke-width="0.9" opacity="0.8"/>
<path d="M374.7 94.1V104.3M373.3 94.1h2.8M373.3 104.3h2.8" stroke="#f00" stroke-width="0.9" fill="none"/>
<circle cx="374.7" cy="99.2" r="1.4" fill="#f00"/>
<text x="397" y="101.2" font-family="Liberation Serif" font-size="7.6" textLength="76" lengthAdjust="spacingAndGlyphs" fill="#3a3a3a" stroke="#3a3a3a" stroke-width="0.05">Apparent resistivity RHOyx</text>
<path d="M360.5 114.5v-2.5M360.5 13.3v2.5M393.5 114.5v-2.5M393.5 13.3v2.5M426.4 114.5v-2.5M426.4 13.3v2.5M459.4 114.5v-2.5M459.4 13.3v2.5M492.4 114.5v-2.5M492.4 13.3v2.5M525.4 114.5v-2.5M525.4 13.3v2.5M558.3 114.5v-2.5M558.3 13.3v2.5M591.3 114.5v-2.5M591.3 13.3v2.5M343.7 23.2h2.5M591.4 23.2h-2.5M343.7 42.5h2.5M591.4 42.5h-2.5M343.7 61.9h2.5M591.4 61.9h-2.5M343.7 81.2h2.5M591.4 81.2h-2.5M343.7 100.6h2.5M591.4 100.6h-2.5" stroke="#404040" stroke-width="0.9" fill="none"/>
<rect x="343.7" y="13.3" width="247.7" height="101.2" fill="none" stroke="#7a7a7a" stroke-width="1.3"/>
<path d="M223.4 173.6V286.2M259.8 173.6V286.2M296.2 173.6V286.2M332.6 173.6V286.2M369 173.6V286.2M405.4 173.6V286.2M441.8 173.6V286.2M205.6 184.9H477.8M205.6 206.4H477.8M205.6 227.9H477.8M205.6 249.4H477.8M205.6 270.9H477.8" stroke="#e0e0e0" stroke-width="0.9" fill="none"/>
<g clip-path="url(#cc)">
<path d="M219.8 226.3 L231 225.9 L237.6 225.2 L242 224 L245.2 223.3 L248.5 222.9 L250.7 222.9 L253.2 223.1 L256.5 223.5 L259.4 223.8 L262 224 L265.3 224.4 L268.7 224.8 L272.2 225.2 L275.6 225.7 L279.1 226.1 L282.6 226.6 L286 227.2 L289.5 227.8 L292.9 228.3 L296.4 228.6 L299.8 229 L303.3 229.3 L306.8 229.7 L310.2 230.1 L313.7 230.4 L317.1 230.8 L320.6 231.1 L324 231.2 L327.5 231.3 L331 231.3 L334.4 230.9 L337.9 230.5 L341.3 229.9 L344.8 229.1 L348.3 228.4 L351.7 227.9 L355.2 227.3 L358.6 226.9 L362.1 226.7 L365.5 227.3 L369 228 L372.5 229.5 L375.9 231.2 L379.4 233.7 L382.8 236.5 L386.3 239.5 L389.7 242.4 L393.2 245.2 L396.7 247.9 L400.1 250.2 L403.6 252.4 L407 254 L410.5 255.4 L414 256.9 L417.4 258.2 L420.9 258.7 L424.3 258.7 L427.8 258.2 L431.2 257.7 L434.7 256.8 L438.2 255.9 L441.6 255.1 L445.1 254.3 L448.5 253.6 L452 253 L455.4 252.8 L458.9 252.5 L462.4 252.2 L465.8 252 L469.3 251.7 L472.7 251.5 L476.2 251.2" fill="none" stroke="#000" stroke-width="1.0" stroke-linejoin="round"/>
<path d="M242 224 L245.2 223.3 L248.5 222.9 L250.7 222.9 L253.2 223.1 L256.5 223.5 L259.4 223.8 L262 224 L265.3 224.4 L268.7 224.8 L272.2 225.2 L275.6 225.7 L279.1 226.1 L282.6 226.6 L286 227.2 L289.5 227.8 L292.9 228.3 L296.4 228.6 L299.8 229" fill="none" stroke="#000" stroke-width="2.4" stroke-linejoin="round" stroke-linecap="round"/>
<path d="M324 231.2 L327.5 231.3 L331 231.3 L334.4 230.9 L337.9 230.5 L341.3 229.9 L344.8 229.1 L348.3 228.4 L351.7 227.9 L355.2 227.3 L358.6 226.9 L362.1 226.7 L365.5 227.3 L369 228 L372.5 229.5 L375.9 231.2 L379.4 233.7 L382.8 236.5 L386.3 239.5 L389.7 242.4 L393.2 245.2 L396.7 247.9 L400.1 250.2 L403.6 252.4 L407 254 L410.5 255.4 L414 256.9 L417.4 258.2 L420.9 258.7 L424.3 258.7 L427.8 258.2 L431.2 257.7 L434.7 256.8 L438.2 255.9 L441.6 255.1 L445.1 254.3 L448.5 253.6 L452 253 L455.4 252.8 L458.9 252.5 L462.4 252.2 L465.8 252 L469.3 251.7 L472.7 251.5 L476.2 251.2" fill="none" stroke="#000" stroke-width="2.4" stroke-linejoin="round" stroke-linecap="round"/>
<path d="M219.8 220.7V231.5M218.2 220.7h3.2M218.2 231.5h3.2M231 222.6V229.2M229.4 222.6h3.2M229.4 229.2h3.2M237.6 222V228.5M236 222h3.2M236 228.5h3.2M242 218.8V229.1M240.4 218.8h3.2M240.4 229.1h3.2M245.2 218V228.6M243.6 218h3.2M243.6 228.6h3.2M248.5 219.3V226.6M246.9 219.3h3.2M246.9 226.6h3.2M250.7 218.4V227.4M249.1 218.4h3.2M249.1 227.4h3.2M253.2 222.6V223.7M251.6 222.6h3.2M251.6 223.7h3.2M256.5 219.1V227.8M254.9 219.1h3.2M254.9 227.8h3.2M259.4 223.2V224.3M257.8 223.2h3.2M257.8 224.3h3.2M262 221.4V226.7M260.4 221.4h3.2M260.4 226.7h3.2M265.3 221.4V227.4M263.7 221.4h3.2M263.7 227.4h3.2M268.7 222.6V227M267.1 222.6h3.2M267.1 227h3.2M272.2 222.8V227.6M270.6 222.8h3.2M270.6 227.6h3.2M275.6 225.1V226.2M274 225.1h3.2M274 226.2h3.2M279.1 223.8V228.4M277.5 223.8h3.2M277.5 228.4h3.2M282.6 222.5V230.7M280.9 222.5h3.2M280.9 230.7h3.2M286 226.6V227.8M284.4 226.6h3.2M284.4 227.8h3.2M289.5 225V230.6M287.9 225h3.2M287.9 230.6h3.2M292.9 225.3V231.2M291.3 225.3h3.2M291.3 231.2h3.2M296.4 224.3V232.9M294.8 224.3h3.2M294.8 232.9h3.2M299.8 226.1V231.8M298.2 226.1h3.2M298.2 231.8h3.2M303.3 226.5V232.2M301.7 226.5h3.2M301.7 232.2h3.2M306.8 226.4V233M305.2 226.4h3.2M305.2 233h3.2M310.2 224.9V235.2M308.6 224.9h3.2M308.6 235.2h3.2M313.7 227.3V233.6M312.1 227.3h3.2M312.1 233.6h3.2M317.1 225.3V236.3M315.5 225.3h3.2M315.5 236.3h3.2M320.6 227V235.3M319 227h3.2M319 235.3h3.2M324 227.3V235.2M322.4 227.3h3.2M322.4 235.2h3.2M327.5 228.9V233.6M325.9 228.9h3.2M325.9 233.6h3.2M331 226.2V236.4M329.4 226.2h3.2M329.4 236.4h3.2M334.4 226.8V235M332.8 226.8h3.2M332.8 235h3.2M337.9 224.6V236.4M336.3 224.6h3.2M336.3 236.4h3.2M341.3 221.3V238.5M339.7 221.3h3.2M339.7 238.5h3.2M344.8 224.9V233.3M343.2 224.9h3.2M343.2 233.3h3.2M348.3 221.9V234.8M346.7 221.9h3.2M346.7 234.8h3.2M351.7 222.2V233.5M350.1 222.2h3.2M350.1 233.5h3.2M355.2 226.7V228M353.6 226.7h3.2M353.6 228h3.2M358.6 223.3V230.6M357 223.3h3.2M357 230.6h3.2M362.1 220.9V232.4M360.5 220.9h3.2M360.5 232.4h3.2M365.5 222.5V232.1M363.9 222.5h3.2M363.9 232.1h3.2M369 224.6V231.3M367.4 224.6h3.2M367.4 231.3h3.2M372.5 226.6V232.3M370.9 226.6h3.2M370.9 232.3h3.2M375.9 229V233.5M374.3 229h3.2M374.3 233.5h3.2M379.4 228.5V239M377.8 228.5h3.2M377.8 239h3.2M382.8 234V239.1M381.2 234h3.2M381.2 239.1h3.2M386.3 238.9V240.1M384.7 238.9h3.2M384.7 240.1h3.2M389.7 238.4V246.5M388.1 238.4h3.2M388.1 246.5h3.2M393.2 239.3V251.1M391.6 239.3h3.2M391.6 251.1h3.2M396.7 242.3V253.4M395.1 242.3h3.2M395.1 253.4h3.2M400.1 244.9V255.6M398.5 244.9h3.2M398.5 255.6h3.2M403.6 251.7V253M402 251.7h3.2M402 253h3.2M407 248.4V259.7M405.4 248.4h3.2M405.4 259.7h3.2M410.5 250.8V259.9M408.9 250.8h3.2M408.9 259.9h3.2M414 253.8V259.9M412.4 253.8h3.2M412.4 259.9h3.2M417.4 254.5V261.9M415.8 254.5h3.2M415.8 261.9h3.2M420.9 256V261.5M419.3 256h3.2M419.3 261.5h3.2M424.3 254.4V263.1M422.7 254.4h3.2M422.7 263.1h3.2M427.8 254.4V262.1M426.2 254.4h3.2M426.2 262.1h3.2M431.2 254.8V260.5M429.6 254.8h3.2M429.6 260.5h3.2M434.7 252.6V261M433.1 252.6h3.2M433.1 261h3.2M438.2 250.3V261.5M436.6 250.3h3.2M436.6 261.5h3.2M441.6 252.6V257.5M440 252.6h3.2M440 257.5h3.2M445.1 249.3V259.4M443.5 249.3h3.2M443.5 259.4h3.2M448.5 249.1V258.1M446.9 249.1h3.2M446.9 258.1h3.2M452 250.7V255.4M450.4 250.7h3.2M450.4 255.4h3.2M455.4 247.4V258.1M453.8 247.4h3.2M453.8 258.1h3.2M458.9 247.9V257.1M457.3 247.9h3.2M457.3 257.1h3.2M462.4 248.6V255.9M460.8 248.6h3.2M460.8 255.9h3.2M465.8 248.6V255.3M464.2 248.6h3.2M464.2 255.3h3.2M469.3 248V255.4M467.7 248h3.2M467.7 255.4h3.2M472.7 250.9V252.1M471.1 250.9h3.2M471.1 252.1h3.2M476.2 246.4V256.1M474.6 246.4h3.2M474.6 256.1h3.2" fill="none" stroke="#000" stroke-width="0.7"/>
<g fill="#000"><circle cx="219.8" cy="226.3" r="1.7"/><circle cx="231" cy="225.9" r="1.7"/><circle cx="237.6" cy="225.2" r="1.7"/><circle cx="242" cy="224" r="1.7"/><circle cx="245.2" cy="223.3" r="1.7"/><circle cx="248.5" cy="222.9" r="1.7"/><circle cx="250.7" cy="222.9" r="1.7"/><circle cx="253.2" cy="223.1" r="1.7"/><circle cx="256.5" cy="223.5" r="1.7"/><circle cx="259.4" cy="223.8" r="1.7"/><circle cx="262" cy="224" r="1.7"/><circle cx="265.3" cy="224.4" r="1.7"/><circle cx="268.7" cy="224.8" r="1.7"/><circle cx="272.2" cy="225.2" r="1.7"/><circle cx="275.6" cy="225.7" r="1.7"/><circle cx="279.1" cy="226.1" r="1.7"/><circle cx="282.6" cy="226.6" r="1.7"/><circle cx="286" cy="227.2" r="1.7"/><circle cx="289.5" cy="227.8" r="1.7"/><circle cx="292.9" cy="228.3" r="1.7"/><circle cx="296.4" cy="228.6" r="1.7"/><circle cx="299.8" cy="229" r="1.7"/><circle cx="303.3" cy="229.3" r="1.7"/><circle cx="306.8" cy="229.7" r="1.7"/><circle cx="310.2" cy="230.1" r="1.7"/><circle cx="313.7" cy="230.4" r="1.7"/><circle cx="317.1" cy="230.8" r="1.7"/><circle cx="320.6" cy="231.1" r="1.7"/><circle cx="324" cy="231.2" r="1.7"/><circle cx="327.5" cy="231.3" r="1.7"/><circle cx="331" cy="231.3" r="1.7"/><circle cx="334.4" cy="230.9" r="1.7"/><circle cx="337.9" cy="230.5" r="1.7"/><circle cx="341.3" cy="229.9" r="1.7"/><circle cx="344.8" cy="229.1" r="1.7"/><circle cx="348.3" cy="228.4" r="1.7"/><circle cx="351.7" cy="227.9" r="1.7"/><circle cx="355.2" cy="227.3" r="1.7"/><circle cx="358.6" cy="226.9" r="1.7"/><circle cx="362.1" cy="226.7" r="1.7"/><circle cx="365.5" cy="227.3" r="1.7"/><circle cx="369" cy="228" r="1.7"/><circle cx="372.5" cy="229.5" r="1.7"/><circle cx="375.9" cy="231.2" r="1.7"/><circle cx="379.4" cy="233.7" r="1.7"/><circle cx="382.8" cy="236.5" r="1.7"/><circle cx="386.3" cy="239.5" r="1.7"/><circle cx="389.7" cy="242.4" r="1.7"/><circle cx="393.2" cy="245.2" r="1.7"/><circle cx="396.7" cy="247.9" r="1.7"/><circle cx="400.1" cy="250.2" r="1.7"/><circle cx="403.6" cy="252.4" r="1.7"/><circle cx="407" cy="254" r="1.7"/><circle cx="410.5" cy="255.4" r="1.7"/><circle cx="414" cy="256.9" r="1.7"/><circle cx="417.4" cy="258.2" r="1.7"/><circle cx="420.9" cy="258.7" r="1.7"/><circle cx="424.3" cy="258.7" r="1.7"/><circle cx="427.8" cy="258.2" r="1.7"/><circle cx="431.2" cy="257.7" r="1.7"/><circle cx="434.7" cy="256.8" r="1.7"/><circle cx="438.2" cy="255.9" r="1.7"/><circle cx="441.6" cy="255.1" r="1.7"/><circle cx="445.1" cy="254.3" r="1.7"/><circle cx="448.5" cy="253.6" r="1.7"/><circle cx="452" cy="253" r="1.7"/><circle cx="455.4" cy="252.8" r="1.7"/><circle cx="458.9" cy="252.5" r="1.7"/><circle cx="462.4" cy="252.2" r="1.7"/><circle cx="465.8" cy="252" r="1.7"/><circle cx="469.3" cy="251.7" r="1.7"/><circle cx="472.7" cy="251.5" r="1.7"/><circle cx="476.2" cy="251.2" r="1.7"/></g>
<path d="M219.8 202.8 L231 203.3 L237.6 203.5 L242 203.8 L245.2 204 L248.5 204.2 L250.7 204.4 L253.2 204.5 L256.5 204.7 L259.4 204.9 L262 205 L265.3 204.8 L268.7 204.7 L272.2 204.6 L275.6 203.9 L279.1 203.2 L282.6 202.5 L286 201.6 L289.5 200.6 L292.9 200.1 L296.4 199.7 L299.8 199.3 L303.3 199.2 L306.8 199.1 L310.2 198.9 L313.7 198.8 L317.1 199 L320.6 199.1 L324 199.3 L327.5 199.5 L331 199.8 L334.4 200.2 L337.9 200.6 L341.3 200.9 L344.8 201.1 L348.3 201.4 L351.7 201.9 L355.2 202.5 L358.6 203 L362.1 203.7 L365.5 204.6 L369 205.9 L372.5 207.9 L375.9 210.1 L379.4 212.6 L382.8 215.1 L386.3 217.7 L389.7 220.4 L393.2 223.5 L396.7 226.9 L400.1 230.1 L403.6 233.2 L407 235.7 L410.5 237.9 L414 239.5 L417.4 240.5 L420.9 241.1 L424.3 241.3 L427.8 241.5 L431.2 240.9 L434.7 240.3 L438.2 239.5 L441.6 238.2 L445.1 236.9 L448.5 236 L452 235.3 L455.4 234.6 L458.9 233.9 L462.4 233.2 L465.8 232.5 L469.3 231.8 L472.7 231.2 L476.2 230.7" fill="none" stroke="#f00" stroke-width="1.0" stroke-linejoin="round"/>
<path d="M242 203.8 L245.2 204 L248.5 204.2 L250.7 204.4 L253.2 204.5 L256.5 204.7 L259.4 204.9 L262 205 L265.3 204.8 L268.7 204.7 L272.2 204.6 L275.6 203.9 L279.1 203.2 L282.6 202.5 L286 201.6 L289.5 200.6 L292.9 200.1 L296.4 199.7 L299.8 199.3" fill="none" stroke="#f00" stroke-width="2.4" stroke-linejoin="round" stroke-linecap="round"/>
<path d="M324 199.3 L327.5 199.5 L331 199.8 L334.4 200.2 L337.9 200.6 L341.3 200.9 L344.8 201.1 L348.3 201.4 L351.7 201.9 L355.2 202.5 L358.6 203 L362.1 203.7 L365.5 204.6 L369 205.9 L372.5 207.9 L375.9 210.1 L379.4 212.6 L382.8 215.1 L386.3 217.7 L389.7 220.4 L393.2 223.5 L396.7 226.9 L400.1 230.1 L403.6 233.2 L407 235.7 L410.5 237.9 L414 239.5 L417.4 240.5 L420.9 241.1 L424.3 241.3 L427.8 241.5 L431.2 240.9 L434.7 240.3 L438.2 239.5 L441.6 238.2 L445.1 236.9 L448.5 236 L452 235.3 L455.4 234.6 L458.9 233.9 L462.4 233.2 L465.8 232.5 L469.3 231.8 L472.7 231.2 L476.2 230.7" fill="none" stroke="#f00" stroke-width="2.4" stroke-linejoin="round" stroke-linecap="round"/>
<path d="M219.8 199.3V205.8M218.2 199.3h3.2M218.2 205.8h3.2M237.6 197.3V209.5M236 197.3h3.2M236 209.5h3.2M242 199.9V207.7M240.4 199.9h3.2M240.4 207.7h3.2M245.2 199.6V208.5M243.6 199.6h3.2M243.6 208.5h3.2M248.5 200.6V207.9M246.9 200.6h3.2M246.9 207.9h3.2M250.7 202.4V206.3M249.1 202.4h3.2M249.1 206.3h3.2M253.2 200.7V208.4M251.6 200.7h3.2M251.6 208.4h3.2M256.5 202V207.5M254.9 202h3.2M254.9 207.5h3.2M259.4 201.2V208.6M257.8 201.2h3.2M257.8 208.6h3.2M262 201.5V208.5M260.4 201.5h3.2M260.4 208.5h3.2M268.7 202.1V207.3M267.1 202.1h3.2M267.1 207.3h3.2M272.2 199.9V209.3M270.6 199.9h3.2M270.6 209.3h3.2M275.6 203.4V204.5M274 203.4h3.2M274 204.5h3.2M279.1 200V206.5M277.5 200h3.2M277.5 206.5h3.2M282.6 201.8V203.2M280.9 201.8h3.2M280.9 203.2h3.2M286 200.8V202.3M284.4 200.8h3.2M284.4 202.3h3.2M289.5 197.8V203.5M287.9 197.8h3.2M287.9 203.5h3.2M292.9 195.7V204.5M291.3 195.7h3.2M291.3 204.5h3.2M296.4 196.2V203.2M294.8 196.2h3.2M294.8 203.2h3.2M299.8 194V204M298.2 194h3.2M298.2 204h3.2M303.3 194.7V203.7M301.7 194.7h3.2M301.7 203.7h3.2M306.8 192.4V206.7M305.2 192.4h3.2M305.2 206.7h3.2M310.2 194.6V203.3M308.6 194.6h3.2M308.6 203.3h3.2M313.7 190.9V207M312.1 190.9h3.2M312.1 207h3.2M317.1 196.1V201.9M315.5 196.1h3.2M315.5 201.9h3.2M320.6 195.3V203M319 195.3h3.2M319 203h3.2M324 195.9V202.7M322.4 195.9h3.2M322.4 202.7h3.2M327.5 197V202M325.9 197h3.2M325.9 202h3.2M331 196.1V203.5M329.4 196.1h3.2M329.4 203.5h3.2M334.4 197.2V203.1M332.8 197.2h3.2M332.8 203.1h3.2M337.9 198.5V202.6M336.3 198.5h3.2M336.3 202.6h3.2M341.3 200.4V201.4M339.7 200.4h3.2M339.7 201.4h3.2M344.8 197.4V204.8M343.2 197.4h3.2M343.2 204.8h3.2M348.3 197.2V205.6M346.7 197.2h3.2M346.7 205.6h3.2M351.7 201.4V202.5M350.1 201.4h3.2M350.1 202.5h3.2M355.2 199.6V205.3M353.6 199.6h3.2M353.6 205.3h3.2M358.6 200.5V205.4M357 200.5h3.2M357 205.4h3.2M362.1 198.9V208.6M360.5 198.9h3.2M360.5 208.6h3.2M365.5 204V205.3M363.9 204h3.2M363.9 205.3h3.2M369 202.3V209.5M367.4 202.3h3.2M367.4 209.5h3.2M372.5 207.3V208.6M370.9 207.3h3.2M370.9 208.6h3.2M375.9 205.1V215.1M374.3 205.1h3.2M374.3 215.1h3.2M379.4 206.7V218.4M377.8 206.7h3.2M377.8 218.4h3.2M382.8 209.3V221M381.2 209.3h3.2M381.2 221h3.2M386.3 212.2V223.2M384.7 212.2h3.2M384.7 223.2h3.2M389.7 216.7V224M388.1 216.7h3.2M388.1 224h3.2M393.2 217.3V229.6M391.6 217.3h3.2M391.6 229.6h3.2M396.7 223.4V230.3M395.1 223.4h3.2M395.1 230.3h3.2M400.1 226.1V234M398.5 226.1h3.2M398.5 234h3.2M403.6 229.1V237.2M402 229.1h3.2M402 237.2h3.2M407 232.5V238.9M405.4 232.5h3.2M405.4 238.9h3.2M410.5 232.4V243.4M408.9 232.4h3.2M408.9 243.4h3.2M414 233.8V245.1M412.4 233.8h3.2M412.4 245.1h3.2M417.4 237.5V243.5M415.8 237.5h3.2M415.8 243.5h3.2M420.9 235.4V246.8M419.3 235.4h3.2M419.3 246.8h3.2M424.3 238.9V243.7M422.7 238.9h3.2M422.7 243.7h3.2M427.8 237.2V245.8M426.2 237.2h3.2M426.2 245.8h3.2M431.2 235.1V246.7M429.6 235.1h3.2M429.6 246.7h3.2M434.7 239.7V240.9M433.1 239.7h3.2M433.1 240.9h3.2M438.2 235.3V243.7M436.6 235.3h3.2M436.6 243.7h3.2M441.6 237.6V238.8M440 237.6h3.2M440 238.8h3.2M445.1 232.1V241.8M443.5 232.1h3.2M443.5 241.8h3.2M448.5 233.5V238.5M446.9 233.5h3.2M446.9 238.5h3.2M452 232.6V238M450.4 232.6h3.2M450.4 238h3.2M455.4 230.1V239.1M453.8 230.1h3.2M453.8 239.1h3.2M458.9 230.9V236.9M457.3 230.9h3.2M457.3 236.9h3.2M462.4 229.1V237.3M460.8 229.1h3.2M460.8 237.3h3.2M465.8 228.9V236.1M464.2 228.9h3.2M464.2 236.1h3.2M469.3 226.1V237.5M467.7 226.1h3.2M467.7 237.5h3.2M472.7 227.3V235.2M471.1 227.3h3.2M471.1 235.2h3.2M476.2 225.9V235.5M474.6 225.9h3.2M474.6 235.5h3.2" fill="none" stroke="#f00" stroke-width="0.7"/>
<g fill="#f00"><circle cx="219.8" cy="202.8" r="1.7"/><circle cx="231" cy="203.3" r="1.7"/><circle cx="237.6" cy="203.5" r="1.7"/><circle cx="242" cy="203.8" r="1.7"/><circle cx="245.2" cy="204" r="1.7"/><circle cx="248.5" cy="204.2" r="1.7"/><circle cx="250.7" cy="204.4" r="1.7"/><circle cx="253.2" cy="204.5" r="1.7"/><circle cx="256.5" cy="204.7" r="1.7"/><circle cx="259.4" cy="204.9" r="1.7"/><circle cx="262" cy="205" r="1.7"/><circle cx="265.3" cy="204.8" r="1.7"/><circle cx="268.7" cy="204.7" r="1.7"/><circle cx="272.2" cy="204.6" r="1.7"/><circle cx="275.6" cy="203.9" r="1.7"/><circle cx="279.1" cy="203.2" r="1.7"/><circle cx="282.6" cy="202.5" r="1.7"/><circle cx="286" cy="201.6" r="1.7"/><circle cx="289.5" cy="200.6" r="1.7"/><circle cx="292.9" cy="200.1" r="1.7"/><circle cx="296.4" cy="199.7" r="1.7"/><circle cx="299.8" cy="199.3" r="1.7"/><circle cx="303.3" cy="199.2" r="1.7"/><circle cx="306.8" cy="199.1" r="1.7"/><circle cx="310.2" cy="198.9" r="1.7"/><circle cx="313.7" cy="198.8" r="1.7"/><circle cx="317.1" cy="199" r="1.7"/><circle cx="320.6" cy="199.1" r="1.7"/><circle cx="324" cy="199.3" r="1.7"/><circle cx="327.5" cy="199.5" r="1.7"/><circle cx="331" cy="199.8" r="1.7"/><circle cx="334.4" cy="200.2" r="1.7"/><circle cx="337.9" cy="200.6" r="1.7"/><circle cx="341.3" cy="200.9" r="1.7"/><circle cx="344.8" cy="201.1" r="1.7"/><circle cx="348.3" cy="201.4" r="1.7"/><circle cx="351.7" cy="201.9" r="1.7"/><circle cx="355.2" cy="202.5" r="1.7"/><circle cx="358.6" cy="203" r="1.7"/><circle cx="362.1" cy="203.7" r="1.7"/><circle cx="365.5" cy="204.6" r="1.7"/><circle cx="369" cy="205.9" r="1.7"/><circle cx="372.5" cy="207.9" r="1.7"/><circle cx="375.9" cy="210.1" r="1.7"/><circle cx="379.4" cy="212.6" r="1.7"/><circle cx="382.8" cy="215.1" r="1.7"/><circle cx="386.3" cy="217.7" r="1.7"/><circle cx="389.7" cy="220.4" r="1.7"/><circle cx="393.2" cy="223.5" r="1.7"/><circle cx="396.7" cy="226.9" r="1.7"/><circle cx="400.1" cy="230.1" r="1.7"/><circle cx="403.6" cy="233.2" r="1.7"/><circle cx="407" cy="235.7" r="1.7"/><circle cx="410.5" cy="237.9" r="1.7"/><circle cx="414" cy="239.5" r="1.7"/><circle cx="417.4" cy="240.5" r="1.7"/><circle cx="420.9" cy="241.1" r="1.7"/><circle cx="424.3" cy="241.3" r="1.7"/><circle cx="427.8" cy="241.5" r="1.7"/><circle cx="431.2" cy="240.9" r="1.7"/><circle cx="434.7" cy="240.3" r="1.7"/><circle cx="438.2" cy="239.5" r="1.7"/><circle cx="441.6" cy="238.2" r="1.7"/><circle cx="445.1" cy="236.9" r="1.7"/><circle cx="448.5" cy="236" r="1.7"/><circle cx="452" cy="235.3" r="1.7"/><circle cx="455.4" cy="234.6" r="1.7"/><circle cx="458.9" cy="233.9" r="1.7"/><circle cx="462.4" cy="233.2" r="1.7"/><circle cx="465.8" cy="232.5" r="1.7"/><circle cx="469.3" cy="231.8" r="1.7"/><circle cx="472.7" cy="231.2" r="1.7"/><circle cx="476.2" cy="230.7" r="1.7"/></g>
</g>
<rect x="211.3" y="244.3" width="139.3" height="33.2" fill="#fff" stroke="#5a5a5a" stroke-width="1"/>
<path d="M216.3 253.7H258.6" stroke="#000" stroke-width="0.9" opacity="0.8"/>
<path d="M237.1 248.2V259.2M235.7 248.2h2.8M235.7 259.2h2.8" stroke="#000" stroke-width="0.9" fill="none"/>
<circle cx="237.1" cy="253.7" r="1.4" fill="#000"/>
<text x="261.8" y="256.1" font-family="Liberation Serif" font-size="8.3" textLength="84.6" lengthAdjust="spacingAndGlyphs" fill="#3a3a3a" stroke="#3a3a3a" stroke-width="0.05">Apparent resistivity RHOxy</text>
<path d="M216.3 268.7H258.6" stroke="#f00" stroke-width="0.9" opacity="0.8"/>
<path d="M237.1 263.1V274.3M235.7 263.1h2.8M235.7 274.3h2.8" stroke="#f00" stroke-width="0.9" fill="none"/>
<circle cx="237.1" cy="268.7" r="1.4" fill="#f00"/>
<text x="261.8" y="271.1" font-family="Liberation Serif" font-size="8.3" textLength="84.6" lengthAdjust="spacingAndGlyphs" fill="#3a3a3a" stroke="#3a3a3a" stroke-width="0.05">Apparent resistivity RHOyx</text>
<path d="M223.4 286.2v-2.5M223.4 173.6v2.5M259.8 286.2v-2.5M259.8 173.6v2.5M296.2 286.2v-2.5M296.2 173.6v2.5M332.6 286.2v-2.5M332.6 173.6v2.5M369 286.2v-2.5M369 173.6v2.5M405.4 286.2v-2.5M405.4 173.6v2.5M441.8 286.2v-2.5M441.8 173.6v2.5M478.2 286.2v-2.5M478.2 173.6v2.5M205.6 184.9h2.5M477.8 184.9h-2.5M205.6 206.4h2.5M477.8 206.4h-2.5M205.6 227.9h2.5M477.8 227.9h-2.5M205.6 249.4h2.5M477.8 249.4h-2.5M205.6 270.9h2.5M477.8 270.9h-2.5" stroke="#404040" stroke-width="0.9" fill="none"/>
<rect x="205.6" y="173.6" width="272.2" height="112.6" fill="none" stroke="#7a7a7a" stroke-width="1.3"/>
<text x="46.1" y="129.9" font-size="10" fill="#4a4a4a" stroke="#4a4a4a" stroke-width="0.35">10</text>
<text x="57.4" y="125.2" font-size="8.4" fill="#4a4a4a" stroke="#4a4a4a" stroke-width="0.35">-3</text>
<text x="79.7" y="129.9" font-size="10" fill="#4a4a4a" stroke="#4a4a4a" stroke-width="0.35">10</text>
<text x="91" y="125.2" font-size="8.4" fill="#4a4a4a" stroke="#4a4a4a" stroke-width="0.35">-2</text>
<text x="113.3" y="129.9" font-size="10" fill="#4a4a4a" stroke="#4a4a4a" stroke-width="0.35">10</text>
<text x="124.6" y="125.2" font-size="8.4" fill="#4a4a4a" stroke="#4a4a4a" stroke-width="0.35">-1</text>
<text x="148.3" y="129.9" font-size="10" fill="#4a4a4a" stroke="#4a4a4a" stroke-width="0.35">10</text>
<text x="159.6" y="125.2" font-size="8.4" fill="#4a4a4a" stroke="#4a4a4a" stroke-width="0.35">0</text>
<text x="181.9" y="129.9" font-size="10" fill="#4a4a4a" stroke="#4a4a4a" stroke-width="0.35">10</text>
<text x="193.2" y="125.2" font-size="8.4" fill="#4a4a4a" stroke="#4a4a4a" stroke-width="0.35">1</text>
<text x="215.5" y="129.9" font-size="10" fill="#4a4a4a" stroke="#4a4a4a" stroke-width="0.35">10</text>
<text x="226.8" y="125.2" font-size="8.4" fill="#4a4a4a" stroke="#4a4a4a" stroke-width="0.35">2</text>
<text x="249.1" y="129.9" font-size="10" fill="#4a4a4a" stroke="#4a4a4a" stroke-width="0.35">10</text>
<text x="260.4" y="125.2" font-size="8.4" fill="#4a4a4a" stroke="#4a4a4a" stroke-width="0.35">3</text>
<text x="282.7" y="129.9" font-size="10" fill="#4a4a4a" stroke="#4a4a4a" stroke-width="0.35">10</text>
<text x="294" y="125.2" font-size="8.4" fill="#4a4a4a" stroke="#4a4a4a" stroke-width="0.35">4</text>
<text x="31.6" y="22" text-anchor="end" font-size="10" fill="#4a4a4a" stroke="#4a4a4a" stroke-width="0.35">10</text>
<text x="31.9" y="18.2" font-size="8" fill="#4a4a4a" stroke="#4a4a4a" stroke-width="0.35">3</text>
<text x="31.6" y="42.9" text-anchor="end" font-size="10" fill="#4a4a4a" stroke="#4a4a4a" stroke-width="0.35">10</text>
<text x="31.9" y="39.1" font-size="8" fill="#4a4a4a" stroke="#4a4a4a" stroke-width="0.35">2</text>
<text x="31.6" y="63.7" text-anchor="end" font-size="10" fill="#4a4a4a" stroke="#4a4a4a" stroke-width="0.35">10</text>
<text x="31.9" y="59.9" font-size="8" fill="#4a4a4a" stroke="#4a4a4a" stroke-width="0.35">1</text>
<text x="31.6" y="84.6" text-anchor="end" font-size="10" fill="#4a4a4a" stroke="#4a4a4a" stroke-width="0.35">10</text>
<text x="31.9" y="80.8" font-size="8" fill="#4a4a4a" stroke="#4a4a4a" stroke-width="0.35">0</text>
<text x="31.6" y="105.4" text-anchor="end" font-size="10" fill="#4a4a4a" stroke="#4a4a4a" stroke-width="0.35">10</text>
<text x="31.9" y="101.6" font-size="8" fill="#4a4a4a" stroke="#4a4a4a" stroke-width="0.35">-1</text>
<text x="351.7" y="129.8" font-size="10.2" fill="#4a4a4a" stroke="#4a4a4a" stroke-width="0.35">10</text>
<text x="363.2" y="125.4" font-size="7.6" fill="#4a4a4a" stroke="#4a4a4a" stroke-width="0.35">-3</text>
<text x="384.6" y="129.8" font-size="10.2" fill="#4a4a4a" stroke="#4a4a4a" stroke-width="0.35">10</text>
<text x="396.2" y="125.4" font-size="7.6" fill="#4a4a4a" stroke="#4a4a4a" stroke-width="0.35">-2</text>
<text x="417.6" y="129.8" font-size="10.2" fill="#4a4a4a" stroke="#4a4a4a" stroke-width="0.35">10</text>
<text x="429.1" y="125.4" font-size="7.6" fill="#4a4a4a" stroke="#4a4a4a" stroke-width="0.35">-1</text>
<text x="451.8" y="129.8" font-size="10.2" fill="#4a4a4a" stroke="#4a4a4a" stroke-width="0.35">10</text>
<text x="463.4" y="125.4" font-size="7.6" fill="#4a4a4a" stroke="#4a4a4a" stroke-width="0.35">0</text>
<text x="484.8" y="129.8" font-size="10.2" fill="#4a4a4a" stroke="#4a4a4a" stroke-width="0.35">10</text>
<text x="496.3" y="125.4" font-size="7.6" fill="#4a4a4a" stroke="#4a4a4a" stroke-width="0.35">1</text>
<text x="517.8" y="129.8" font-size="10.2" fill="#4a4a4a" stroke="#4a4a4a" stroke-width="0.35">10</text>
<text x="529.3" y="125.4" font-size="7.6" fill="#4a4a4a" stroke="#4a4a4a" stroke-width="0.35">2</text>
<text x="550.7" y="129.8" font-size="10.2" fill="#4a4a4a" stroke="#4a4a4a" stroke-width="0.35">10</text>
<text x="562.3" y="125.4" font-size="7.6" fill="#4a4a4a" stroke="#4a4a4a" stroke-width="0.35">3</text>
<text x="583.7" y="129.8" font-size="10.2" fill="#4a4a4a" stroke="#4a4a4a" stroke-width="0.35">10</text>
<text x="595.2" y="125.4" font-size="7.6" fill="#4a4a4a" stroke="#4a4a4a" stroke-width="0.35">4</text>
<text x="336.9" y="26.9" text-anchor="end" font-size="9.5" fill="#4a4a4a" stroke="#4a4a4a" stroke-width="0.35">10</text>
<text x="337.2" y="23.9" font-size="7.5" fill="#4a4a4a" stroke="#4a4a4a" stroke-width="0.35">3</text>
<text x="336.9" y="46.2" text-anchor="end" font-size="9.5" fill="#4a4a4a" stroke="#4a4a4a" stroke-width="0.35">10</text>
<text x="337.2" y="43.2" font-size="7.5" fill="#4a4a4a" stroke="#4a4a4a" stroke-width="0.35">2</text>
<text x="336.9" y="65.6" text-anchor="end" font-size="9.5" fill="#4a4a4a" stroke="#4a4a4a" stroke-width="0.35">10</text>
<text x="337.2" y="62.6" font-size="7.5" fill="#4a4a4a" stroke="#4a4a4a" stroke-width="0.35">1</text>
<text x="336.9" y="85" text-anchor="end" font-size="9.5" fill="#4a4a4a" stroke="#4a4a4a" stroke-width="0.35">10</text>
<text x="337.2" y="82" font-size="7.5" fill="#4a4a4a" stroke="#4a4a4a" stroke-width="0.35">0</text>
<text x="336.9" y="104.3" text-anchor="end" font-size="9.5" fill="#4a4a4a" stroke="#4a4a4a" stroke-width="0.35">10</text>
<text x="337.2" y="101.3" font-size="7.5" fill="#4a4a4a" stroke="#4a4a4a" stroke-width="0.35">-1</text>
<rect x="340.9" y="96.8" width="2.2" height="6" fill="#7089a0"/>
<text x="213.7" y="302.8" font-size="11" fill="#4a4a4a" stroke="#4a4a4a" stroke-width="0.35">10</text>
<text x="226.3" y="297.5" font-size="8.3" fill="#4a4a4a" stroke="#4a4a4a" stroke-width="0.35">-3</text>
<text x="250.1" y="302.8" font-size="11" fill="#4a4a4a" stroke="#4a4a4a" stroke-width="0.35">10</text>
<text x="262.7" y="297.5" font-size="8.3" fill="#4a4a4a" stroke="#4a4a4a" stroke-width="0.35">-2</text>
<text x="286.5" y="302.8" font-size="11" fill="#4a4a4a" stroke="#4a4a4a" stroke-width="0.35">10</text>
<text x="299.1" y="297.5" font-size="8.3" fill="#4a4a4a" stroke="#4a4a4a" stroke-width="0.35">-1</text>
<text x="324.3" y="302.8" font-size="11" fill="#4a4a4a" stroke="#4a4a4a" stroke-width="0.35">10</text>
<text x="336.9" y="297.5" font-size="8.3" fill="#4a4a4a" stroke="#4a4a4a" stroke-width="0.35">0</text>
<text x="360.7" y="302.8" font-size="11" fill="#4a4a4a" stroke="#4a4a4a" stroke-width="0.35">10</text>
<text x="373.3" y="297.5" font-size="8.3" fill="#4a4a4a" stroke="#4a4a4a" stroke-width="0.35">1</text>
<text x="397.1" y="302.8" font-size="11" fill="#4a4a4a" stroke="#4a4a4a" stroke-width="0.35">10</text>
<text x="409.7" y="297.5" font-size="8.3" fill="#4a4a4a" stroke="#4a4a4a" stroke-width="0.35">2</text>
<text x="433.5" y="302.8" font-size="11" fill="#4a4a4a" stroke="#4a4a4a" stroke-width="0.35">10</text>
<text x="446.1" y="297.5" font-size="8.3" fill="#4a4a4a" stroke="#4a4a4a" stroke-width="0.35">3</text>
<text x="469.9" y="302.8" font-size="11" fill="#4a4a4a" stroke="#4a4a4a" stroke-width="0.35">10</text>
<text x="482.5" y="297.5" font-size="8.3" fill="#4a4a4a" stroke="#4a4a4a" stroke-width="0.35">4</text>
<text x="198.6" y="190.8" text-anchor="end" font-size="11" fill="#4a4a4a" stroke="#4a4a4a" stroke-width="0.35">10</text>
<text x="198.9" y="187.3" font-size="8.5" fill="#4a4a4a" stroke="#4a4a4a" stroke-width="0.35">3</text>
<text x="198.6" y="212.3" text-anchor="end" font-size="11" fill="#4a4a4a" stroke="#4a4a4a" stroke-width="0.35">10</text>
<text x="198.9" y="208.8" font-size="8.5" fill="#4a4a4a" stroke="#4a4a4a" stroke-width="0.35">2</text>
<text x="198.6" y="233.8" text-anchor="end" font-size="11" fill="#4a4a4a" stroke="#4a4a4a" stroke-width="0.35">10</text>
<text x="198.9" y="230.3" font-size="8.5" fill="#4a4a4a" stroke="#4a4a4a" stroke-width="0.35">1</text>
<text x="198.6" y="255.3" text-anchor="end" font-size="11" fill="#4a4a4a" stroke="#4a4a4a" stroke-width="0.35">10</text>
<text x="198.9" y="251.8" font-size="8.5" fill="#4a4a4a" stroke="#4a4a4a" stroke-width="0.35">0</text>
<text x="198.6" y="276.8" text-anchor="end" font-size="11" fill="#4a4a4a" stroke="#4a4a4a" stroke-width="0.35">10</text>
<text x="198.9" y="273.3" font-size="8.5" fill="#4a4a4a" stroke="#4a4a4a" stroke-width="0.35">-1</text>
<text transform="translate(14.7 69.5) rotate(-90)" text-anchor="middle" font-family="Liberation Serif" font-size="12" fill="#222" stroke="#222" stroke-width="0.08">Apparent resistivity(&#937; m)</text>
<text transform="translate(323.7 72.8) rotate(-90)" text-anchor="middle" font-family="Liberation Serif" font-size="11.5" fill="#222" stroke="#222" stroke-width="0.08">Apparent resistivity(&#937; m)</text>
<text transform="translate(183.3 237.8) rotate(-90)" text-anchor="middle" font-family="Liberation Serif" font-size="11.75" fill="#222" stroke="#222" stroke-width="0.08">Apparent resistivity(&#937; m)</text>
<text x="157.3" y="141.5" text-anchor="middle" font-family="Liberation Serif" font-size="11.6" fill="#222" stroke="#222" stroke-width="0.35">Frequency(Hz)</text>
<text x="472.2" y="141.8" text-anchor="middle" font-family="Liberation Serif" font-size="12.4" fill="#222" stroke="#222" stroke-width="0.35">Frequency(Hz)</text>
<text x="349.8" y="315.6" text-anchor="middle" font-family="Liberation Serif" font-size="13" fill="#222" stroke="#222" stroke-width="0.35">Frequency(Hz)</text>
<text x="0.7" y="162.2" font-size="14.6" textLength="16.6" lengthAdjust="spacingAndGlyphs" fill="#111" stroke="#111" stroke-width="0.25">(<tspan font-weight="bold">a</tspan>)</text>
<text x="21.7" y="162.2" font-size="14.6" textLength="57.6" lengthAdjust="spacingAndGlyphs" fill="#111" stroke="#111" stroke-width="0.25">Apparent</text>
<text x="85.7" y="162.2" font-size="14.6" textLength="59.6" lengthAdjust="spacingAndGlyphs" fill="#111" stroke="#111" stroke-width="0.25">resistivity</text>
<text x="150.7" y="162.2" font-size="14.6" textLength="62.6" lengthAdjust="spacingAndGlyphs" fill="#111" stroke="#111" stroke-width="0.25">calculated</text>
<text x="219.2" y="162.2" font-size="14.6" textLength="13.6" lengthAdjust="spacingAndGlyphs" fill="#111" stroke="#111" stroke-width="0.25">by</text>
<text x="237.2" y="162.2" font-size="14.6" textLength="19.1" lengthAdjust="spacingAndGlyphs" fill="#111" stroke="#111" stroke-width="0.25">MP</text>
<text x="262.7" y="162.2" font-size="14.6" textLength="61.6" lengthAdjust="spacingAndGlyphs" fill="#111" stroke="#111" stroke-width="0.25">algorithm</text>
<text x="327.2" y="162.2" font-size="14.6" textLength="18.6" lengthAdjust="spacingAndGlyphs" fill="#111" stroke="#111" stroke-width="0.25">(<tspan font-weight="bold">b</tspan>)</text>
<text x="350.7" y="162.2" font-size="14.6" textLength="57.1" lengthAdjust="spacingAndGlyphs" fill="#111" stroke="#111" stroke-width="0.25">Apparent</text>
<text x="413.2" y="162.2" font-size="14.6" textLength="60.6" lengthAdjust="spacingAndGlyphs" fill="#111" stroke="#111" stroke-width="0.25">resistivity</text>
<text x="477.7" y="162.2" font-size="14.6" textLength="64.3" lengthAdjust="spacingAndGlyphs" fill="#111" stroke="#111" stroke-width="0.25">calculated</text>
<text x="547.7" y="162.2" font-size="14.6" textLength="13.6" lengthAdjust="spacingAndGlyphs" fill="#111" stroke="#111" stroke-width="0.25">by</text>
<text x="566.2" y="162.2" font-size="14.6" textLength="52.6" lengthAdjust="spacingAndGlyphs" fill="#111" stroke="#111" stroke-width="0.25">CoSaMP</text>
<text x="622.2" y="162.2" font-size="14.6" textLength="60.1" lengthAdjust="spacingAndGlyphs" fill="#111" stroke="#111" stroke-width="0.25">algorithm</text>
<text x="170.7" y="337" font-size="14.6" textLength="15.5" lengthAdjust="spacingAndGlyphs" fill="#111" stroke="#111" stroke-width="0.25">(<tspan font-weight="bold">c</tspan>)</text>
<text x="190.7" y="337" font-size="14.6" textLength="58.6" lengthAdjust="spacingAndGlyphs" fill="#111" stroke="#111" stroke-width="0.25">Apparent</text>
<text x="253.2" y="337" font-size="14.6" textLength="61.9" lengthAdjust="spacingAndGlyphs" fill="#111" stroke="#111" stroke-width="0.25">resistivity</text>
<text x="319.2" y="337" font-size="14.6" textLength="62.6" lengthAdjust="spacingAndGlyphs" fill="#111" stroke="#111" stroke-width="0.25">calculated</text>
<text x="387.2" y="337" font-size="14.6" textLength="14.1" lengthAdjust="spacingAndGlyphs" fill="#111" stroke="#111" stroke-width="0.25">by</text>
<text x="405.7" y="337" font-size="14.6" textLength="47.6" lengthAdjust="spacingAndGlyphs" fill="#111" stroke="#111" stroke-width="0.25">AEA-SD</text>
</svg>
</body></html>
